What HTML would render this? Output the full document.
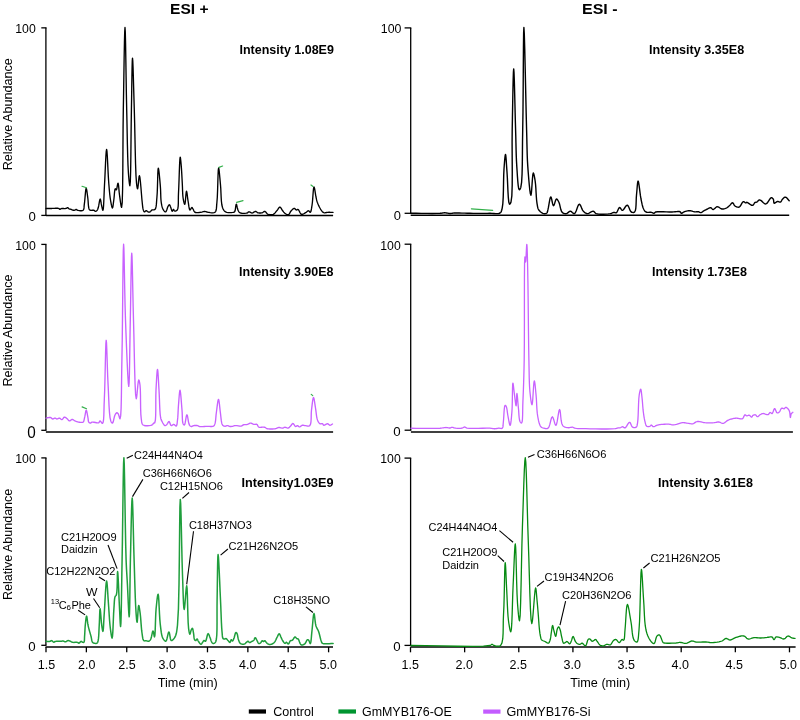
<!DOCTYPE html>
<html><head><meta charset="utf-8"><title>Chromatograms</title>
<style>html,body{margin:0;padding:0;background:#fff;width:800px;height:720px;overflow:hidden}
svg{display:block;will-change:transform}
text{font-family:"Liberation Sans", sans-serif;fill:#000}</style></head>
<body><svg width="800" height="720" viewBox="0 0 800 720">
<rect width="800" height="720" fill="#fff"/>
<line x1="45.90" y1="27.85" x2="45.90" y2="215.40" stroke="#000" stroke-width="1.30"/>
<line x1="41.30" y1="27.85" x2="46.50" y2="27.85" stroke="#000" stroke-width="1.30"/>
<line x1="41.30" y1="215.40" x2="46.50" y2="215.40" stroke="#000" stroke-width="1.30"/>
<line x1="45.90" y1="215.40" x2="333.10" y2="215.40" stroke="#000" stroke-width="1.50"/>
<line x1="45.90" y1="244.40" x2="45.90" y2="430.30" stroke="#000" stroke-width="1.30"/>
<line x1="41.30" y1="244.40" x2="46.50" y2="244.40" stroke="#000" stroke-width="1.30"/>
<line x1="41.30" y1="430.30" x2="46.50" y2="430.30" stroke="#000" stroke-width="1.30"/>
<line x1="45.90" y1="432.00" x2="333.10" y2="432.00" stroke="#000" stroke-width="1.50"/>
<line x1="45.90" y1="457.90" x2="45.90" y2="645.30" stroke="#000" stroke-width="1.30"/>
<line x1="41.30" y1="457.90" x2="46.50" y2="457.90" stroke="#000" stroke-width="1.30"/>
<line x1="41.30" y1="645.30" x2="46.50" y2="645.30" stroke="#000" stroke-width="1.30"/>
<line x1="45.50" y1="647.10" x2="333.00" y2="647.10" stroke="#000" stroke-width="1.50"/>
<line x1="410.70" y1="27.90" x2="410.70" y2="213.30" stroke="#000" stroke-width="1.30"/>
<line x1="404.60" y1="27.90" x2="411.30" y2="27.90" stroke="#000" stroke-width="1.30"/>
<line x1="404.60" y1="213.30" x2="411.30" y2="213.30" stroke="#000" stroke-width="1.30"/>
<line x1="410.70" y1="215.30" x2="789.20" y2="215.30" stroke="#000" stroke-width="1.50"/>
<line x1="410.70" y1="244.20" x2="410.70" y2="430.20" stroke="#000" stroke-width="1.30"/>
<line x1="404.60" y1="244.20" x2="411.30" y2="244.20" stroke="#000" stroke-width="1.30"/>
<line x1="404.60" y1="430.20" x2="411.30" y2="430.20" stroke="#000" stroke-width="1.30"/>
<line x1="410.90" y1="431.90" x2="792.90" y2="431.90" stroke="#000" stroke-width="1.50"/>
<line x1="410.60" y1="458.10" x2="410.60" y2="645.40" stroke="#000" stroke-width="1.30"/>
<line x1="404.50" y1="458.10" x2="411.20" y2="458.10" stroke="#000" stroke-width="1.30"/>
<line x1="404.50" y1="645.40" x2="411.20" y2="645.40" stroke="#000" stroke-width="1.30"/>
<line x1="410.50" y1="647.10" x2="795.60" y2="647.10" stroke="#000" stroke-width="1.50"/>
<line x1="46.00" y1="647.00" x2="46.00" y2="652.30" stroke="#000" stroke-width="1.30"/>
<line x1="410.50" y1="647.10" x2="410.50" y2="652.30" stroke="#000" stroke-width="1.30"/>
<line x1="86.37" y1="647.00" x2="86.37" y2="652.30" stroke="#000" stroke-width="1.30"/>
<line x1="464.64" y1="647.10" x2="464.64" y2="652.30" stroke="#000" stroke-width="1.30"/>
<line x1="126.74" y1="647.00" x2="126.74" y2="652.30" stroke="#000" stroke-width="1.30"/>
<line x1="518.78" y1="647.10" x2="518.78" y2="652.30" stroke="#000" stroke-width="1.30"/>
<line x1="167.11" y1="647.00" x2="167.11" y2="652.30" stroke="#000" stroke-width="1.30"/>
<line x1="572.92" y1="647.10" x2="572.92" y2="652.30" stroke="#000" stroke-width="1.30"/>
<line x1="207.48" y1="647.00" x2="207.48" y2="652.30" stroke="#000" stroke-width="1.30"/>
<line x1="627.06" y1="647.10" x2="627.06" y2="652.30" stroke="#000" stroke-width="1.30"/>
<line x1="247.85" y1="647.00" x2="247.85" y2="652.30" stroke="#000" stroke-width="1.30"/>
<line x1="681.20" y1="647.10" x2="681.20" y2="652.30" stroke="#000" stroke-width="1.30"/>
<line x1="288.22" y1="647.00" x2="288.22" y2="652.30" stroke="#000" stroke-width="1.30"/>
<line x1="735.34" y1="647.10" x2="735.34" y2="652.30" stroke="#000" stroke-width="1.30"/>
<line x1="328.59" y1="647.00" x2="328.59" y2="652.30" stroke="#000" stroke-width="1.30"/>
<line x1="789.48" y1="647.10" x2="789.48" y2="652.30" stroke="#000" stroke-width="1.30"/>
<path d="M46.00 208.45 L47.00 208.45 L47.99 208.45 L48.98 208.45 L49.98 208.45 L50.98 208.45 L52.00 208.45 L53.16 208.42 L54.42 208.35 L55.68 208.28 L56.87 208.25 L57.91 208.29 L58.70 208.45 L58.97 208.59 L59.19 208.79 L59.37 209.00 L59.54 209.19 L59.71 209.34 L59.90 209.40 L60.10 209.36 L60.29 209.24 L60.48 209.08 L60.69 208.89 L60.92 208.72 L61.20 208.60 L61.85 208.50 L62.66 208.49 L63.57 208.52 L64.48 208.55 L65.32 208.54 L66.00 208.45 L66.33 208.32 L66.61 208.14 L66.87 207.94 L67.11 207.76 L67.35 207.63 L67.60 207.60 L67.87 207.70 L68.13 207.90 L68.39 208.16 L68.65 208.45 L68.92 208.71 L69.20 208.90 L69.47 209.01 L69.74 209.08 L70.02 209.13 L70.31 209.17 L70.60 209.22 L70.90 209.30 L71.28 209.44 L71.69 209.63 L72.10 209.82 L72.52 210.01 L72.92 210.16 L73.30 210.25 L73.58 210.28 L73.86 210.28 L74.13 210.26 L74.39 210.22 L74.65 210.17 L74.90 210.10 L75.13 210.00 L75.35 209.85 L75.57 209.69 L75.78 209.54 L75.99 209.44 L76.20 209.40 L76.41 209.46 L76.59 209.59 L76.78 209.76 L76.98 209.95 L77.22 210.12 L77.50 210.25 L78.25 210.44 L79.22 210.61 L80.32 210.73 L81.40 210.74 L82.37 210.60 L83.10 210.25 L83.57 209.65 L83.85 208.85 L83.99 207.88 L84.08 206.79 L84.16 205.62 L84.30 204.40 L84.62 201.81 L84.93 198.44 L85.25 194.85 L85.56 191.59 L85.87 189.22 L86.20 188.30 L86.46 188.78 L86.74 190.06 L87.01 191.88 L87.28 193.99 L87.55 196.11 L87.80 198.00 L88.02 199.98 L88.18 202.17 L88.33 204.39 L88.52 206.44 L88.80 208.14 L89.20 209.30 L89.38 209.57 L89.57 209.78 L89.77 209.94 L89.99 210.06 L90.23 210.16 L90.50 210.25 L90.95 210.32 L91.48 210.32 L92.06 210.26 L92.64 210.21 L93.20 210.19 L93.70 210.25 L94.07 210.40 L94.42 210.63 L94.75 210.88 L95.07 211.11 L95.39 211.27 L95.70 211.30 L96.05 211.19 L96.40 210.97 L96.75 210.65 L97.08 210.26 L97.40 209.80 L97.70 209.30 L98.23 207.83 L98.70 205.73 L99.12 203.39 L99.50 201.22 L99.86 199.62 L100.20 199.00 L100.44 199.31 L100.67 200.13 L100.87 201.28 L101.07 202.59 L101.28 203.88 L101.50 205.00 L101.73 206.03 L101.97 207.19 L102.22 208.35 L102.46 209.35 L102.69 210.05 L102.90 210.30 L103.28 209.03 L103.57 205.74 L103.81 201.05 L104.03 195.61 L104.25 190.05 L104.50 185.00 L104.84 178.59 L105.18 170.95 L105.53 163.13 L105.88 156.22 L106.24 151.28 L106.60 149.40 L106.95 151.24 L107.30 156.04 L107.65 162.71 L108.00 170.15 L108.37 177.28 L108.75 183.00 L109.02 186.24 L109.28 189.33 L109.54 192.26 L109.82 195.03 L110.14 197.61 L110.50 200.00 L110.79 201.70 L111.11 203.49 L111.45 205.20 L111.78 206.64 L112.11 207.63 L112.40 208.00 L112.66 207.60 L112.91 206.56 L113.14 205.08 L113.36 203.36 L113.58 201.60 L113.80 200.00 L114.04 197.99 L114.25 195.61 L114.45 193.18 L114.67 191.01 L114.95 189.43 L115.30 188.75 L115.45 188.81 L115.62 189.03 L115.79 189.32 L115.97 189.62 L116.14 189.83 L116.30 189.90 L116.62 189.35 L116.93 188.09 L117.22 186.48 L117.49 184.89 L117.75 183.68 L118.00 183.20 L118.29 183.81 L118.54 185.39 L118.77 187.62 L118.99 190.18 L119.23 192.75 L119.50 195.00 L119.83 197.34 L120.19 200.04 L120.56 202.75 L120.94 205.11 L121.29 206.78 L121.60 207.40 L122.23 202.30 L122.61 189.01 L122.82 170.33 L122.95 149.06 L123.08 128.01 L123.30 110.00 L123.58 93.94 L123.86 75.88 L124.14 58.01 L124.43 42.52 L124.72 31.62 L125.00 27.50 L125.28 31.83 L125.56 43.20 L125.83 59.14 L126.11 77.23 L126.40 94.99 L126.70 110.00 L126.95 121.49 L127.17 133.27 L127.40 144.81 L127.67 155.58 L127.99 165.06 L128.40 172.70 L128.63 175.76 L128.89 178.77 L129.15 181.51 L129.42 183.75 L129.67 185.25 L129.90 185.80 L130.32 181.76 L130.63 171.21 L130.85 156.46 L131.02 139.81 L131.20 123.56 L131.40 110.00 L131.58 99.58 L131.75 88.13 L131.91 76.95 L132.09 67.35 L132.28 60.63 L132.50 58.10 L132.76 60.64 L133.05 67.38 L133.35 77.01 L133.67 88.20 L133.99 99.64 L134.30 110.00 L134.63 122.40 L134.93 136.45 L135.23 150.86 L135.57 164.29 L135.98 175.44 L136.50 183.00 L136.67 184.47 L136.85 185.83 L137.03 187.01 L137.22 187.93 L137.41 188.54 L137.60 188.75 L137.89 187.77 L138.18 185.33 L138.48 182.17 L138.78 179.00 L139.09 176.57 L139.40 175.60 L139.88 177.25 L140.39 181.47 L140.91 187.23 L141.42 193.49 L141.89 199.19 L142.30 203.30 L142.45 204.63 L142.58 205.81 L142.70 206.87 L142.83 207.83 L142.99 208.70 L143.20 209.50 L143.36 210.02 L143.53 210.54 L143.72 211.03 L143.92 211.44 L144.15 211.75 L144.40 211.90 L144.67 211.85 L144.96 211.62 L145.28 211.30 L145.61 210.96 L145.93 210.71 L146.25 210.60 L146.56 210.68 L146.86 210.89 L147.16 211.17 L147.47 211.47 L147.78 211.73 L148.10 211.90 L148.41 211.98 L148.73 212.04 L149.06 212.06 L149.38 212.05 L149.70 212.00 L150.00 211.90 L150.33 211.69 L150.63 211.37 L150.92 211.00 L151.21 210.61 L151.53 210.27 L151.90 210.00 L152.37 209.86 L152.91 209.83 L153.47 209.84 L154.03 209.82 L154.55 209.70 L155.00 209.40 L155.64 208.30 L156.07 206.68 L156.34 204.67 L156.53 202.39 L156.69 199.96 L156.90 197.50 L157.23 192.68 L157.46 186.50 L157.64 179.96 L157.80 174.04 L158.01 169.76 L158.30 168.10 L158.61 169.07 L158.98 171.64 L159.37 175.25 L159.76 179.36 L160.11 183.43 L160.40 186.90 L160.57 189.66 L160.67 192.44 L160.75 195.19 L160.84 197.83 L160.99 200.29 L161.25 202.50 L161.48 203.87 L161.72 205.16 L161.99 206.38 L162.30 207.50 L162.66 208.51 L163.10 209.40 L163.47 210.00 L163.88 210.59 L164.32 211.14 L164.77 211.57 L165.20 211.84 L165.60 211.90 L166.07 211.50 L166.51 210.63 L166.92 209.47 L167.32 208.23 L167.71 207.09 L168.10 206.25 L168.32 205.89 L168.55 205.54 L168.77 205.22 L168.99 204.96 L169.20 204.80 L169.40 204.75 L169.62 204.87 L169.82 205.16 L170.02 205.56 L170.21 206.04 L170.40 206.53 L170.60 207.00 L170.87 207.72 L171.14 208.61 L171.41 209.54 L171.69 210.38 L171.97 210.99 L172.25 211.25 L172.45 211.13 L172.66 210.79 L172.87 210.35 L173.08 209.90 L173.29 209.55 L173.50 209.40 L173.70 209.50 L173.88 209.78 L174.07 210.14 L174.27 210.51 L174.49 210.83 L174.75 211.00 L175.11 211.05 L175.54 211.01 L176.00 210.89 L176.46 210.69 L176.89 210.39 L177.25 210.00 L177.88 208.44 L178.20 206.10 L178.33 203.19 L178.36 199.90 L178.38 196.44 L178.50 193.00 L178.78 186.97 L179.06 179.40 L179.32 171.46 L179.60 164.33 L179.89 159.18 L180.20 157.20 L180.37 157.61 L180.55 158.71 L180.73 160.30 L180.91 162.18 L181.09 164.15 L181.25 166.00 L181.46 168.62 L181.64 171.53 L181.82 174.61 L181.98 177.75 L182.14 180.83 L182.30 183.75 L182.42 186.28 L182.50 188.83 L182.59 191.33 L182.70 193.73 L182.86 195.98 L183.10 198.00 L183.33 199.37 L183.60 200.81 L183.89 202.18 L184.19 203.33 L184.48 204.12 L184.75 204.40 L185.08 203.41 L185.38 200.97 L185.66 197.81 L185.94 194.65 L186.21 192.22 L186.50 191.25 L186.76 191.77 L187.01 193.13 L187.27 195.04 L187.53 197.23 L187.81 199.39 L188.10 201.25 L188.38 202.93 L188.64 204.82 L188.92 206.68 L189.23 208.31 L189.58 209.49 L190.00 210.00 L190.29 209.86 L190.61 209.40 L190.95 208.79 L191.28 208.17 L191.61 207.69 L191.90 207.50 L192.10 207.57 L192.28 207.76 L192.45 208.02 L192.63 208.34 L192.81 208.68 L193.00 209.00 L193.28 209.50 L193.55 210.09 L193.83 210.73 L194.15 211.33 L194.53 211.86 L195.00 212.25 L195.67 212.51 L196.45 212.62 L197.32 212.63 L198.23 212.57 L199.14 212.48 L200.00 212.40 L200.85 212.29 L201.72 212.10 L202.58 211.89 L203.43 211.68 L204.24 211.54 L205.00 211.50 L205.53 211.56 L206.01 211.68 L206.47 211.83 L206.93 212.00 L207.43 212.14 L208.00 212.25 L209.05 212.41 L210.29 212.63 L211.62 212.80 L212.92 212.85 L214.08 212.70 L215.00 212.25 L215.73 211.31 L216.18 210.01 L216.43 208.42 L216.58 206.60 L216.70 204.60 L216.90 202.50 L217.31 197.18 L217.60 190.02 L217.83 182.27 L218.04 175.19 L218.28 170.01 L218.60 168.00 L218.88 168.83 L219.20 171.05 L219.52 174.22 L219.86 177.89 L220.19 181.63 L220.50 185.00 L220.78 188.78 L220.96 192.94 L221.15 197.18 L221.41 201.23 L221.83 204.76 L222.50 207.50 L222.90 208.53 L223.31 209.42 L223.77 210.20 L224.28 210.87 L224.88 211.43 L225.60 211.90 L226.77 212.32 L228.25 212.55 L229.87 212.62 L231.44 212.58 L232.79 212.44 L233.75 212.25 L234.00 212.17 L234.20 212.09 L234.37 211.99 L234.51 211.87 L234.65 211.71 L234.80 211.50 L235.13 210.57 L235.40 209.11 L235.62 207.43 L235.83 205.85 L236.05 204.67 L236.30 204.20 L236.53 204.48 L236.75 205.23 L236.98 206.28 L237.22 207.45 L237.49 208.58 L237.80 209.50 L238.06 210.12 L238.32 210.74 L238.59 211.32 L238.91 211.86 L239.30 212.32 L239.80 212.70 L240.76 213.06 L241.99 213.27 L243.37 213.34 L244.76 213.30 L246.01 213.18 L247.00 213.00 L247.42 212.83 L247.76 212.60 L248.06 212.33 L248.35 212.09 L248.66 211.89 L249.00 211.80 L249.46 211.87 L249.94 212.08 L250.44 212.38 L250.96 212.68 L251.48 212.91 L252.00 213.00 L252.59 212.87 L253.21 212.56 L253.83 212.17 L254.45 211.78 L255.04 211.50 L255.60 211.40 L256.02 211.50 L256.41 211.73 L256.78 212.02 L257.16 212.33 L257.56 212.61 L258.00 212.80 L258.61 212.93 L259.28 213.00 L259.98 213.02 L260.69 212.99 L261.37 212.92 L262.00 212.80 L262.51 212.60 L262.99 212.30 L263.45 211.96 L263.90 211.65 L264.35 211.44 L264.80 211.40 L265.32 211.63 L265.82 212.10 L266.31 212.72 L266.83 213.36 L267.38 213.92 L268.00 214.30 L268.80 214.54 L269.69 214.69 L270.63 214.75 L271.58 214.71 L272.49 214.56 L273.30 214.30 L274.02 213.89 L274.67 213.31 L275.29 212.63 L275.87 211.90 L276.43 211.17 L277.00 210.50 L277.51 209.85 L278.01 209.10 L278.50 208.36 L278.97 207.72 L279.44 207.26 L279.90 207.10 L280.35 207.29 L280.78 207.75 L281.21 208.41 L281.63 209.15 L282.06 209.88 L282.50 210.50 L282.92 211.02 L283.33 211.55 L283.74 212.07 L284.16 212.56 L284.61 213.01 L285.10 213.40 L285.61 213.75 L286.18 214.10 L286.76 214.41 L287.34 214.64 L287.89 214.75 L288.40 214.70 L288.89 214.39 L289.32 213.83 L289.72 213.13 L290.12 212.36 L290.53 211.62 L291.00 211.00 L291.51 210.45 L292.07 209.87 L292.65 209.31 L293.23 208.84 L293.79 208.52 L294.30 208.40 L294.66 208.51 L295.00 208.79 L295.33 209.16 L295.65 209.54 L295.97 209.84 L296.30 210.00 L296.58 209.98 L296.86 209.84 L297.14 209.66 L297.42 209.49 L297.71 209.39 L298.00 209.40 L298.54 209.86 L299.08 210.76 L299.64 211.88 L300.22 213.00 L300.83 213.92 L301.50 214.40 L302.12 214.44 L302.79 214.25 L303.49 213.92 L304.19 213.50 L304.86 213.07 L305.50 212.70 L306.04 212.35 L306.58 211.92 L307.09 211.48 L307.59 211.10 L308.06 210.83 L308.50 210.75 L308.84 210.89 L309.16 211.21 L309.47 211.60 L309.77 211.98 L310.04 212.24 L310.30 212.30 L310.69 211.90 L311.01 211.05 L311.28 209.86 L311.53 208.47 L311.76 206.97 L312.00 205.50 L312.38 202.52 L312.71 198.65 L313.01 194.53 L313.31 190.78 L313.63 188.06 L314.00 187.00 L314.31 187.54 L314.64 188.96 L314.99 190.94 L315.33 193.16 L315.68 195.29 L316.00 197.00 L316.21 197.96 L316.39 198.83 L316.56 199.65 L316.76 200.47 L317.00 201.30 L317.30 202.20 L317.80 203.49 L318.41 204.91 L319.08 206.36 L319.80 207.76 L320.51 209.04 L321.20 210.10 L321.61 210.68 L322.01 211.22 L322.42 211.70 L322.84 212.12 L323.29 212.46 L323.80 212.70 L324.41 212.82 L325.08 212.79 L325.79 212.68 L326.52 212.52 L327.26 212.38 L328.00 212.30 L328.81 212.28 L329.63 212.29 L330.47 212.32 L331.32 212.35 L332.16 212.38 L333.00 212.40" fill="none" stroke="#000" stroke-width="1.35" stroke-linejoin="round" stroke-linecap="round"/>
<path d="M46.00 418.10 L46.79 417.96 L47.62 417.78 L48.44 417.61 L49.24 417.47 L49.97 417.42 L50.60 417.50 L50.98 417.68 L51.30 417.97 L51.59 418.29 L51.88 418.61 L52.17 418.86 L52.50 419.00 L52.89 418.97 L53.31 418.81 L53.74 418.58 L54.18 418.34 L54.60 418.16 L55.00 418.10 L55.33 418.18 L55.64 418.34 L55.95 418.55 L56.26 418.76 L56.57 418.92 L56.90 419.00 L57.30 418.94 L57.71 418.77 L58.13 418.53 L58.56 418.31 L58.99 418.14 L59.40 418.10 L59.83 418.25 L60.25 418.55 L60.67 418.92 L61.09 419.27 L61.50 419.53 L61.90 419.60 L62.33 419.39 L62.74 418.93 L63.15 418.36 L63.55 417.78 L63.97 417.32 L64.40 417.10 L64.81 417.12 L65.22 417.28 L65.65 417.54 L66.07 417.85 L66.49 418.18 L66.90 418.50 L67.33 418.89 L67.74 419.38 L68.14 419.90 L68.54 420.37 L68.96 420.72 L69.40 420.90 L69.85 420.83 L70.32 420.56 L70.80 420.19 L71.29 419.81 L71.77 419.52 L72.25 419.40 L72.71 419.48 L73.15 419.70 L73.59 419.99 L74.04 420.32 L74.51 420.64 L75.00 420.90 L75.58 421.14 L76.18 421.38 L76.81 421.60 L77.45 421.81 L78.09 421.97 L78.75 422.10 L79.48 422.22 L80.28 422.35 L81.08 422.44 L81.85 422.45 L82.54 422.35 L83.10 422.10 L83.50 421.67 L83.79 421.09 L83.99 420.39 L84.15 419.62 L84.31 418.81 L84.50 418.00 L84.80 416.68 L85.10 415.03 L85.39 413.31 L85.67 411.78 L85.96 410.67 L86.25 410.25 L86.55 410.67 L86.86 411.77 L87.18 413.31 L87.48 415.02 L87.76 416.67 L88.00 418.00 L88.13 418.79 L88.20 419.58 L88.27 420.33 L88.36 421.01 L88.50 421.61 L88.75 422.10 L89.00 422.38 L89.30 422.63 L89.63 422.84 L89.97 422.99 L90.30 423.08 L90.60 423.10 L90.82 423.03 L91.01 422.87 L91.19 422.66 L91.38 422.43 L91.61 422.24 L91.90 422.10 L92.78 422.06 L93.99 422.23 L95.34 422.51 L96.70 422.77 L97.89 422.89 L98.75 422.75 L99.06 422.50 L99.29 422.13 L99.45 421.71 L99.61 421.32 L99.78 421.03 L100.00 420.90 L100.37 421.08 L100.79 421.57 L101.25 422.22 L101.70 422.85 L102.13 423.30 L102.50 423.40 L103.19 422.11 L103.61 419.18 L103.85 415.06 L103.98 410.19 L104.10 405.02 L104.30 400.00 L104.68 390.26 L105.01 377.72 L105.30 364.41 L105.59 352.38 L105.88 343.66 L106.20 340.30 L106.49 342.63 L106.77 348.76 L107.06 357.37 L107.37 367.15 L107.71 376.80 L108.10 385.00 L108.43 391.74 L108.73 398.94 L109.05 406.03 L109.46 412.44 L110.02 417.62 L110.80 421.00 L111.06 421.60 L111.34 422.12 L111.64 422.56 L111.93 422.88 L112.22 423.07 L112.50 423.10 L112.94 422.56 L113.35 421.32 L113.73 419.66 L114.12 417.86 L114.54 416.21 L115.00 415.00 L115.30 414.47 L115.62 413.95 L115.94 413.49 L116.27 413.12 L116.59 412.86 L116.90 412.75 L117.14 412.79 L117.38 412.92 L117.62 413.13 L117.86 413.39 L118.08 413.69 L118.30 414.00 L118.63 414.71 L118.94 415.70 L119.23 416.79 L119.50 417.78 L119.76 418.50 L120.00 418.75 L120.67 415.90 L121.10 408.49 L121.36 397.86 L121.53 385.34 L121.69 372.28 L121.90 360.00 L122.24 340.27 L122.52 315.71 L122.78 290.06 L123.02 267.09 L123.29 250.55 L123.60 244.20 L123.87 248.12 L124.14 258.42 L124.42 272.94 L124.73 289.49 L125.08 305.90 L125.50 320.00 L125.98 332.86 L126.54 347.38 L127.14 361.78 L127.74 374.27 L128.29 383.07 L128.75 386.40 L129.11 383.02 L129.40 374.11 L129.64 361.51 L129.85 347.06 L130.07 332.61 L130.30 320.00 L130.54 307.33 L130.78 292.80 L131.01 278.26 L131.25 265.58 L131.49 256.60 L131.75 253.20 L132.02 256.54 L132.28 265.37 L132.56 277.91 L132.85 292.38 L133.16 307.00 L133.50 320.00 L133.87 334.57 L134.23 351.59 L134.62 368.79 L135.07 383.90 L135.60 394.64 L136.25 398.75 L136.62 397.38 L137.03 393.91 L137.46 389.41 L137.90 384.89 L138.33 381.41 L138.75 380.00 L138.97 380.19 L139.19 380.75 L139.40 381.58 L139.62 382.62 L139.82 383.78 L140.00 385.00 L140.32 389.20 L140.47 395.02 L140.54 401.69 L140.63 408.39 L140.84 414.35 L141.25 418.75 L141.45 420.16 L141.61 421.44 L141.79 422.56 L142.06 423.54 L142.48 424.35 L143.10 425.00 L144.23 425.50 L145.76 425.74 L147.49 425.77 L149.22 425.62 L150.76 425.35 L151.90 425.00 L152.33 424.74 L152.69 424.41 L152.98 424.03 L153.24 423.66 L153.49 423.34 L153.75 423.10 L153.93 423.02 L154.10 423.00 L154.27 422.99 L154.44 422.97 L154.60 422.90 L154.75 422.75 L155.37 420.23 L155.68 415.42 L155.79 409.16 L155.80 402.29 L155.84 395.62 L156.00 390.00 L156.22 385.81 L156.47 381.25 L156.72 376.83 L156.98 373.04 L157.24 370.39 L157.50 369.40 L157.75 370.41 L158.00 373.10 L158.26 376.94 L158.51 381.39 L158.76 385.92 L159.00 390.00 L159.24 394.65 L159.45 399.82 L159.64 405.10 L159.88 410.08 L160.18 414.35 L160.60 417.50 L160.78 418.34 L160.96 419.02 L161.15 419.61 L161.36 420.14 L161.61 420.67 L161.90 421.25 L162.32 422.06 L162.81 422.98 L163.36 423.90 L163.92 424.71 L164.48 425.31 L165.00 425.60 L165.32 425.59 L165.65 425.47 L165.97 425.26 L166.29 424.99 L166.60 424.69 L166.90 424.40 L167.27 423.94 L167.63 423.32 L167.98 422.67 L168.32 422.08 L168.66 421.65 L169.00 421.50 L169.37 421.80 L169.72 422.52 L170.06 423.46 L170.42 424.41 L170.81 425.20 L171.25 425.60 L171.63 425.59 L172.04 425.38 L172.46 425.07 L172.90 424.74 L173.33 424.49 L173.75 424.40 L174.19 424.55 L174.64 424.89 L175.09 425.32 L175.52 425.71 L175.91 425.97 L176.25 426.00 L176.62 425.60 L176.89 424.83 L177.08 423.79 L177.22 422.57 L177.35 421.27 L177.50 420.00 L177.73 417.89 L177.90 415.50 L178.04 412.92 L178.17 410.24 L178.32 407.57 L178.50 405.00 L178.72 402.19 L178.95 398.98 L179.21 395.77 L179.47 392.98 L179.73 391.00 L180.00 390.25 L180.33 391.30 L180.67 394.04 L181.03 397.88 L181.38 402.22 L181.71 406.46 L182.00 410.00 L182.17 412.61 L182.27 415.33 L182.35 417.97 L182.48 420.38 L182.71 422.36 L183.10 423.75 L183.29 424.11 L183.50 424.43 L183.73 424.70 L183.96 424.89 L184.19 425.00 L184.40 425.00 L184.87 424.14 L185.30 422.22 L185.71 419.77 L186.10 417.34 L186.49 415.49 L186.90 414.75 L187.29 415.38 L187.66 417.00 L188.03 419.19 L188.43 421.54 L188.87 423.61 L189.40 425.00 L189.68 425.40 L189.97 425.75 L190.27 426.03 L190.58 426.25 L190.91 426.41 L191.25 426.50 L191.63 426.49 L192.02 426.36 L192.43 426.16 L192.85 425.93 L193.29 425.73 L193.75 425.60 L194.34 425.52 L194.99 425.46 L195.66 425.44 L196.32 425.46 L196.95 425.51 L197.50 425.60 L197.84 425.71 L198.14 425.87 L198.41 426.05 L198.69 426.22 L199.01 426.38 L199.40 426.50 L200.37 426.61 L201.57 426.62 L202.91 426.56 L204.32 426.46 L205.71 426.36 L207.00 426.30 L208.17 426.32 L209.39 426.39 L210.60 426.47 L211.73 426.49 L212.72 426.38 L213.50 426.10 L213.89 425.81 L214.20 425.46 L214.43 425.05 L214.63 424.59 L214.81 424.08 L215.00 423.50 L215.32 422.19 L215.56 420.59 L215.74 418.79 L215.90 416.87 L216.07 414.91 L216.30 413.00 L216.63 410.52 L216.99 407.59 L217.37 404.61 L217.76 401.98 L218.14 400.11 L218.50 399.40 L218.82 400.05 L219.13 401.76 L219.43 404.16 L219.72 406.91 L220.01 409.64 L220.30 412.00 L220.56 414.06 L220.80 416.23 L221.03 418.39 L221.28 420.40 L221.56 422.15 L221.90 423.50 L222.06 423.96 L222.21 424.35 L222.37 424.70 L222.55 425.00 L222.76 425.26 L223.00 425.50 L223.28 425.71 L223.59 425.88 L223.93 426.03 L224.28 426.14 L224.64 426.21 L225.00 426.25 L225.40 426.21 L225.81 426.09 L226.23 425.93 L226.66 425.76 L227.08 425.64 L227.50 425.60 L227.92 425.67 L228.33 425.83 L228.75 426.02 L229.16 426.22 L229.58 426.40 L230.00 426.50 L230.41 426.53 L230.83 426.53 L231.25 426.50 L231.67 426.44 L232.08 426.37 L232.50 426.30 L232.91 426.20 L233.29 426.08 L233.68 425.93 L234.08 425.80 L234.51 425.68 L235.00 425.60 L235.91 425.59 L236.98 425.70 L238.13 425.86 L239.28 426.00 L240.35 426.07 L241.25 426.00 L241.74 425.85 L242.16 425.64 L242.54 425.40 L242.92 425.15 L243.31 424.92 L243.75 424.75 L244.33 424.64 L244.95 424.58 L245.60 424.57 L246.25 424.55 L246.89 424.51 L247.50 424.40 L248.04 424.21 L248.56 423.94 L249.08 423.65 L249.58 423.38 L250.09 423.18 L250.60 423.10 L251.12 423.18 L251.64 423.39 L252.17 423.67 L252.69 423.97 L253.22 424.23 L253.75 424.40 L254.28 424.44 L254.84 424.39 L255.40 424.31 L255.94 424.25 L256.45 424.26 L256.90 424.40 L257.26 424.72 L257.54 425.18 L257.78 425.72 L258.03 426.26 L258.34 426.75 L258.75 427.10 L259.50 427.33 L260.43 427.36 L261.46 427.29 L262.52 427.20 L263.53 427.15 L264.40 427.25 L264.96 427.44 L265.46 427.71 L265.92 428.00 L266.39 428.29 L266.90 428.56 L267.50 428.75 L268.58 428.93 L269.84 429.02 L271.20 429.04 L272.57 429.00 L273.87 428.90 L275.00 428.75 L275.71 428.58 L276.35 428.34 L276.96 428.07 L277.55 427.82 L278.14 427.61 L278.75 427.50 L279.38 427.52 L280.02 427.63 L280.67 427.80 L281.31 427.96 L281.92 428.08 L282.50 428.10 L282.95 428.01 L283.36 427.85 L283.77 427.66 L284.17 427.46 L284.57 427.32 L285.00 427.25 L285.50 427.32 L286.03 427.50 L286.57 427.74 L287.10 427.96 L287.61 428.11 L288.10 428.10 L288.56 427.93 L288.99 427.63 L289.40 427.26 L289.81 426.84 L290.20 426.40 L290.60 426.00 L291.00 425.55 L291.38 425.01 L291.76 424.46 L292.13 423.97 L292.51 423.63 L292.90 423.50 L293.34 423.71 L293.79 424.24 L294.24 424.94 L294.70 425.64 L295.15 426.22 L295.60 426.50 L295.92 426.47 L296.24 426.31 L296.56 426.08 L296.87 425.84 L297.19 425.66 L297.50 425.60 L297.82 425.71 L298.12 425.95 L298.42 426.25 L298.73 426.56 L299.05 426.79 L299.40 426.90 L299.87 426.81 L300.38 426.53 L300.91 426.16 L301.45 425.77 L301.98 425.44 L302.50 425.25 L302.91 425.22 L303.31 425.26 L303.71 425.34 L304.11 425.45 L304.54 425.54 L305.00 425.60 L305.73 425.70 L306.57 425.87 L307.45 426.02 L308.31 426.07 L309.10 425.96 L309.75 425.60 L310.55 424.14 L310.97 421.83 L311.15 418.95 L311.21 415.81 L311.28 412.73 L311.50 410.00 L311.81 407.55 L312.13 404.80 L312.46 402.10 L312.80 399.77 L313.15 398.12 L313.50 397.50 L313.83 398.02 L314.16 399.41 L314.50 401.39 L314.84 403.67 L315.17 405.96 L315.50 408.00 L315.81 410.04 L316.08 412.21 L316.34 414.40 L316.64 416.51 L317.02 418.41 L317.50 420.00 L317.85 420.83 L318.23 421.61 L318.63 422.31 L319.06 422.92 L319.52 423.40 L320.00 423.75 L320.40 423.87 L320.84 423.86 L321.29 423.79 L321.73 423.70 L322.14 423.67 L322.50 423.75 L322.75 423.94 L322.94 424.22 L323.11 424.54 L323.28 424.85 L323.49 425.10 L323.75 425.25 L324.25 425.21 L324.86 424.94 L325.54 424.55 L326.23 424.15 L326.90 423.85 L327.50 423.75 L327.95 423.88 L328.38 424.17 L328.79 424.52 L329.19 424.86 L329.59 425.13 L330.00 425.25 L330.41 425.20 L330.83 425.03 L331.25 424.79 L331.66 424.52 L332.08 424.24 L332.50 424.00" fill="none" stroke="#c862ff" stroke-width="1.35" stroke-linejoin="round" stroke-linecap="round"/>
<path d="M46.00 641.35 L46.69 641.37 L47.40 641.40 L48.12 641.43 L48.81 641.45 L49.44 641.43 L50.00 641.35 L50.31 641.24 L50.59 641.08 L50.84 640.90 L51.08 640.74 L51.33 640.63 L51.60 640.60 L51.98 640.74 L52.37 641.06 L52.78 641.45 L53.18 641.83 L53.56 642.13 L53.90 642.25 L54.09 642.21 L54.26 642.10 L54.41 641.94 L54.57 641.77 L54.76 641.62 L55.00 641.50 L55.63 641.38 L56.43 641.33 L57.33 641.33 L58.27 641.35 L59.19 641.37 L60.00 641.35 L60.59 641.30 L61.16 641.23 L61.71 641.16 L62.24 641.10 L62.75 641.08 L63.25 641.10 L63.65 641.19 L64.03 641.33 L64.40 641.50 L64.76 641.66 L65.12 641.77 L65.50 641.80 L65.93 641.70 L66.37 641.48 L66.81 641.21 L67.25 640.93 L67.68 640.71 L68.10 640.60 L68.43 640.60 L68.75 640.65 L69.06 640.74 L69.37 640.85 L69.68 640.97 L70.00 641.10 L70.36 641.27 L70.70 641.47 L71.05 641.69 L71.41 641.91 L71.81 642.10 L72.25 642.25 L73.03 642.36 L73.95 642.38 L74.93 642.34 L75.91 642.30 L76.79 642.31 L77.50 642.40 L77.81 642.52 L78.07 642.68 L78.31 642.86 L78.53 643.02 L78.76 643.13 L79.00 643.15 L79.34 642.99 L79.70 642.66 L80.06 642.24 L80.42 641.82 L80.77 641.49 L81.10 641.35 L81.34 641.39 L81.58 641.54 L81.80 641.73 L82.03 641.95 L82.26 642.13 L82.50 642.25 L82.73 642.32 L82.98 642.38 L83.24 642.42 L83.48 642.42 L83.71 642.37 L83.90 642.25 L84.20 641.72 L84.37 640.86 L84.45 639.77 L84.49 638.53 L84.53 637.24 L84.60 636.00 L84.72 634.33 L84.82 632.52 L84.92 630.62 L85.02 628.69 L85.14 626.80 L85.30 625.00 L85.48 623.25 L85.68 621.30 L85.90 619.38 L86.14 617.71 L86.37 616.54 L86.60 616.10 L86.82 616.57 L87.04 617.81 L87.27 619.55 L87.50 621.51 L87.74 623.42 L88.00 625.00 L88.23 626.08 L88.47 627.11 L88.72 628.10 L88.98 629.08 L89.24 630.04 L89.50 631.00 L89.75 631.89 L90.00 632.76 L90.25 633.62 L90.50 634.49 L90.75 635.36 L91.00 636.25 L91.24 637.29 L91.44 638.43 L91.65 639.57 L91.88 640.65 L92.15 641.57 L92.50 642.25 L92.71 642.50 L92.94 642.70 L93.18 642.85 L93.43 642.97 L93.70 643.06 L94.00 643.15 L94.45 643.26 L94.98 643.35 L95.54 643.40 L96.10 643.40 L96.60 643.32 L97.00 643.15 L97.28 642.91 L97.50 642.61 L97.68 642.24 L97.82 641.81 L97.96 641.31 L98.10 640.75 L98.42 638.94 L98.66 636.55 L98.83 633.77 L98.97 630.79 L99.10 627.80 L99.25 625.00 L99.40 621.94 L99.53 618.42 L99.65 614.89 L99.77 611.81 L99.92 609.63 L100.10 608.80 L100.32 609.71 L100.56 612.07 L100.83 615.34 L101.11 618.95 L101.40 622.36 L101.70 625.00 L101.90 626.39 L102.10 627.83 L102.31 629.19 L102.52 630.33 L102.72 631.12 L102.90 631.40 L103.16 630.57 L103.38 628.37 L103.58 625.21 L103.77 621.49 L103.97 617.62 L104.20 614.00 L104.56 608.34 L104.96 601.33 L105.37 594.03 L105.79 587.50 L106.20 582.80 L106.60 581.00 L106.91 582.10 L107.21 585.02 L107.51 589.16 L107.81 593.93 L108.10 598.74 L108.40 603.00 L108.70 607.20 L108.99 611.63 L109.28 616.10 L109.58 620.44 L109.92 624.46 L110.30 628.00 L110.58 630.19 L110.89 632.46 L111.21 634.61 L111.52 636.41 L111.83 637.65 L112.10 638.10 L112.49 636.44 L112.81 632.18 L113.09 626.30 L113.35 619.79 L113.61 613.63 L113.90 608.80 L114.07 606.33 L114.20 603.93 L114.34 601.67 L114.51 599.64 L114.75 597.93 L115.10 596.60 L115.29 596.21 L115.51 595.94 L115.75 595.73 L115.98 595.51 L116.20 595.22 L116.40 594.80 L116.86 591.93 L117.13 587.31 L117.27 581.96 L117.35 576.88 L117.44 573.09 L117.60 571.60 L117.88 573.45 L118.18 578.30 L118.49 585.05 L118.81 592.64 L119.11 599.98 L119.40 606.00 L119.61 610.20 L119.82 614.74 L120.03 619.14 L120.23 622.90 L120.42 625.52 L120.60 626.50 L120.90 623.27 L121.16 614.71 L121.41 602.45 L121.63 588.14 L121.86 573.45 L122.10 560.00 L122.40 541.87 L122.69 519.98 L122.98 497.49 L123.27 477.54 L123.58 463.26 L123.90 457.80 L124.24 463.83 L124.58 479.35 L124.93 500.56 L125.30 523.62 L125.69 544.71 L126.10 560.00 L126.31 564.92 L126.51 569.10 L126.73 572.81 L126.94 576.34 L127.17 579.98 L127.40 584.00 L127.69 589.93 L128.01 596.99 L128.33 604.18 L128.65 610.54 L128.94 615.07 L129.20 616.80 L129.47 613.93 L129.68 606.37 L129.85 595.65 L130.01 583.32 L130.19 570.92 L130.40 560.00 L130.67 548.39 L130.95 534.94 L131.26 521.42 L131.57 509.58 L131.89 501.19 L132.20 498.00 L132.51 501.22 L132.82 509.68 L133.13 521.59 L133.45 535.14 L133.77 548.55 L134.10 560.00 L134.40 569.39 L134.69 579.15 L134.99 588.79 L135.30 597.80 L135.64 605.70 L136.00 612.00 L136.17 614.42 L136.35 616.79 L136.53 618.94 L136.72 620.69 L136.91 621.87 L137.10 622.30 L137.35 621.05 L137.59 617.92 L137.85 613.86 L138.11 609.79 L138.39 606.66 L138.70 605.40 L138.94 605.78 L139.19 606.80 L139.45 608.29 L139.71 610.05 L139.96 611.92 L140.20 613.70 L140.52 616.55 L140.80 619.87 L141.06 623.40 L141.33 626.93 L141.63 630.21 L142.00 633.00 L142.23 634.58 L142.44 636.14 L142.66 637.60 L142.93 638.89 L143.30 639.91 L143.80 640.60 L144.16 640.80 L144.56 640.88 L144.99 640.87 L145.43 640.83 L145.87 640.79 L146.30 640.80 L146.71 640.88 L147.13 641.00 L147.54 641.12 L147.94 641.21 L148.33 641.25 L148.70 641.20 L149.06 641.05 L149.39 640.84 L149.71 640.56 L150.02 640.23 L150.31 639.84 L150.60 639.40 L151.09 638.19 L151.53 636.46 L151.93 634.56 L152.30 632.80 L152.65 631.50 L153.00 631.00 L153.28 631.44 L153.55 632.54 L153.81 633.97 L154.05 635.39 L154.28 636.48 L154.50 636.90 L154.88 635.33 L155.15 631.32 L155.35 625.76 L155.55 619.55 L155.78 613.60 L156.10 608.80 L156.40 605.75 L156.73 602.49 L157.08 599.37 L157.44 596.72 L157.78 594.88 L158.10 594.20 L158.49 595.91 L158.82 600.32 L159.13 606.43 L159.46 613.21 L159.84 619.64 L160.30 624.70 L160.63 627.37 L160.94 629.95 L161.27 632.38 L161.67 634.59 L162.16 636.52 L162.80 638.10 L163.24 638.89 L163.74 639.64 L164.27 640.31 L164.81 640.83 L165.33 641.15 L165.80 641.20 L166.42 640.41 L166.98 638.68 L167.49 636.48 L167.97 634.31 L168.44 632.65 L168.90 632.00 L169.30 632.62 L169.64 634.16 L169.96 636.18 L170.31 638.22 L170.74 639.85 L171.30 640.60 L171.84 640.55 L172.47 640.17 L173.15 639.55 L173.83 638.77 L174.46 637.89 L175.00 637.00 L175.65 635.60 L176.15 634.06 L176.54 632.30 L176.87 630.25 L177.17 627.84 L177.50 625.00 L178.43 608.85 L179.02 583.67 L179.39 554.81 L179.66 527.58 L179.92 507.34 L180.30 499.40 L180.66 503.59 L181.02 514.49 L181.37 529.59 L181.74 546.38 L182.11 562.35 L182.50 575.00 L182.76 582.30 L183.00 590.00 L183.25 597.33 L183.52 603.52 L183.83 607.80 L184.20 609.40 L184.57 607.66 L184.99 603.29 L185.45 597.60 L185.90 591.91 L186.33 587.54 L186.70 585.80 L187.09 588.45 L187.37 595.21 L187.60 604.33 L187.85 614.08 L188.16 622.72 L188.60 628.50 L188.80 629.87 L189.00 631.18 L189.22 632.33 L189.44 633.25 L189.67 633.87 L189.90 634.10 L190.10 633.87 L190.30 633.27 L190.51 632.44 L190.72 631.52 L190.95 630.66 L191.20 630.00 L191.39 629.63 L191.60 629.24 L191.81 628.88 L192.02 628.59 L192.22 628.40 L192.40 628.35 L192.64 628.61 L192.84 629.22 L193.02 630.08 L193.18 631.06 L193.34 632.07 L193.50 633.00 L193.67 634.13 L193.81 635.41 L193.93 636.73 L194.09 637.97 L194.30 639.02 L194.60 639.75 L194.78 639.98 L194.97 640.18 L195.18 640.33 L195.39 640.44 L195.60 640.50 L195.80 640.50 L196.03 640.36 L196.25 640.07 L196.47 639.71 L196.68 639.35 L196.89 639.09 L197.10 639.00 L197.33 639.15 L197.55 639.49 L197.76 639.96 L197.98 640.50 L198.23 641.03 L198.50 641.50 L198.87 642.03 L199.29 642.63 L199.73 643.23 L200.18 643.75 L200.61 644.11 L201.00 644.25 L201.27 644.16 L201.53 643.93 L201.78 643.60 L202.02 643.22 L202.26 642.84 L202.50 642.50 L202.75 642.14 L202.99 641.73 L203.23 641.31 L203.47 640.94 L203.73 640.65 L204.00 640.50 L204.24 640.53 L204.49 640.67 L204.75 640.88 L205.01 641.08 L205.26 641.21 L205.50 641.20 L205.99 640.49 L206.44 639.05 L206.86 637.26 L207.27 635.50 L207.68 634.15 L208.10 633.60 L208.42 633.78 L208.74 634.29 L209.06 635.01 L209.38 635.86 L209.69 636.73 L210.00 637.50 L210.32 638.32 L210.62 639.23 L210.91 640.15 L211.22 641.03 L211.54 641.80 L211.90 642.40 L212.13 642.68 L212.37 642.94 L212.62 643.16 L212.87 643.33 L213.13 643.45 L213.40 643.50 L213.70 643.48 L214.01 643.38 L214.33 643.22 L214.65 643.02 L214.94 642.77 L215.20 642.50 L215.49 642.11 L215.72 641.67 L215.92 641.16 L216.09 640.56 L216.24 639.84 L216.40 639.00 L216.80 634.98 L216.99 629.24 L217.04 622.33 L217.03 614.78 L217.03 607.16 L217.10 600.00 L217.24 591.58 L217.36 581.76 L217.50 571.84 L217.65 563.14 L217.85 556.95 L218.10 554.60 L218.43 557.00 L218.82 563.31 L219.25 572.14 L219.70 582.11 L220.12 591.86 L220.50 600.00 L220.76 605.84 L220.99 611.76 L221.21 617.52 L221.44 622.88 L221.69 627.62 L222.00 631.50 L222.14 633.08 L222.25 634.56 L222.36 635.91 L222.52 637.06 L222.75 637.97 L223.10 638.60 L223.30 638.78 L223.52 638.89 L223.76 638.96 L224.01 638.99 L224.25 639.00 L224.50 639.00 L224.76 638.96 L225.03 638.87 L225.30 638.75 L225.57 638.64 L225.84 638.58 L226.10 638.60 L226.43 638.76 L226.75 639.03 L227.06 639.38 L227.37 639.77 L227.69 640.15 L228.00 640.50 L228.32 640.87 L228.65 641.29 L228.99 641.72 L229.31 642.09 L229.62 642.33 L229.90 642.40 L230.17 642.17 L230.41 641.68 L230.63 641.04 L230.84 640.41 L231.06 639.92 L231.30 639.70 L231.49 639.78 L231.70 640.03 L231.90 640.35 L232.10 640.67 L232.30 640.92 L232.50 641.00 L232.74 640.86 L232.98 640.53 L233.21 640.08 L233.44 639.53 L233.67 638.96 L233.90 638.40 L234.23 637.44 L234.56 636.22 L234.88 634.94 L235.21 633.77 L235.55 632.89 L235.90 632.50 L236.08 632.50 L236.27 632.60 L236.46 632.76 L236.65 632.98 L236.83 633.23 L237.00 633.50 L237.30 634.23 L237.54 635.21 L237.75 636.35 L237.96 637.55 L238.20 638.70 L238.50 639.70 L238.77 640.46 L239.04 641.22 L239.32 641.94 L239.65 642.61 L240.03 643.17 L240.50 643.60 L241.06 643.88 L241.71 644.07 L242.43 644.17 L243.15 644.19 L243.82 644.13 L244.40 644.00 L244.80 643.82 L245.15 643.55 L245.47 643.23 L245.78 642.89 L246.09 642.57 L246.40 642.30 L246.67 642.09 L246.94 641.86 L247.21 641.64 L247.47 641.46 L247.73 641.34 L248.00 641.30 L248.28 641.40 L248.56 641.64 L248.84 641.94 L249.12 642.25 L249.40 642.49 L249.70 642.60 L250.02 642.56 L250.35 642.41 L250.69 642.20 L251.03 641.95 L251.37 641.71 L251.70 641.50 L252.03 641.34 L252.36 641.20 L252.69 641.07 L253.01 640.92 L253.31 640.73 L253.60 640.50 L253.91 640.07 L254.19 639.49 L254.44 638.86 L254.68 638.29 L254.93 637.87 L255.20 637.70 L255.49 637.84 L255.79 638.21 L256.09 638.73 L256.39 639.34 L256.70 639.96 L257.00 640.50 L257.31 641.06 L257.61 641.70 L257.91 642.35 L258.22 642.93 L258.55 643.37 L258.90 643.60 L259.20 643.61 L259.53 643.51 L259.86 643.33 L260.19 643.10 L260.51 642.85 L260.80 642.60 L261.07 642.30 L261.30 641.91 L261.52 641.50 L261.74 641.12 L261.96 640.84 L262.20 640.70 L262.41 640.74 L262.62 640.90 L262.84 641.12 L263.06 641.35 L263.28 641.53 L263.50 641.60 L263.72 641.53 L263.93 641.35 L264.14 641.13 L264.36 640.91 L264.58 640.75 L264.80 640.70 L265.10 640.85 L265.41 641.17 L265.72 641.60 L266.04 642.07 L266.36 642.53 L266.70 642.90 L267.01 643.19 L267.32 643.47 L267.64 643.73 L267.97 643.97 L268.32 644.16 L268.70 644.30 L269.20 644.39 L269.75 644.42 L270.33 644.39 L270.91 644.30 L271.48 644.17 L272.00 644.00 L272.48 643.78 L272.94 643.52 L273.38 643.20 L273.80 642.85 L274.21 642.44 L274.60 642.00 L275.09 641.31 L275.54 640.49 L275.97 639.59 L276.38 638.68 L276.79 637.80 L277.20 637.00 L277.54 636.34 L277.88 635.63 L278.22 634.94 L278.55 634.35 L278.88 633.94 L279.20 633.80 L279.54 634.01 L279.88 634.54 L280.21 635.28 L280.54 636.13 L280.87 636.97 L281.20 637.70 L281.51 638.32 L281.82 638.96 L282.12 639.59 L282.43 640.20 L282.75 640.77 L283.10 641.30 L283.42 641.75 L283.75 642.21 L284.10 642.65 L284.45 643.03 L284.78 643.29 L285.10 643.40 L285.33 643.33 L285.54 643.13 L285.75 642.86 L285.95 642.59 L286.17 642.38 L286.40 642.30 L286.71 642.43 L287.05 642.76 L287.39 643.19 L287.74 643.60 L288.08 643.91 L288.40 644.00 L288.75 643.75 L289.07 643.22 L289.38 642.52 L289.69 641.78 L290.03 641.13 L290.40 640.70 L290.69 640.56 L291.01 640.50 L291.33 640.49 L291.66 640.48 L291.98 640.43 L292.30 640.30 L292.76 639.87 L293.22 639.21 L293.67 638.47 L294.12 637.77 L294.57 637.23 L295.00 637.00 L295.33 637.07 L295.65 637.31 L295.97 637.65 L296.28 638.02 L296.59 638.36 L296.90 638.60 L297.12 638.69 L297.35 638.73 L297.57 638.76 L297.78 638.79 L297.99 638.86 L298.20 639.00 L298.57 639.51 L298.91 640.27 L299.23 641.17 L299.55 642.09 L299.87 642.94 L300.20 643.60 L300.40 643.92 L300.59 644.22 L300.79 644.49 L300.99 644.71 L301.23 644.89 L301.50 645.00 L301.96 645.04 L302.51 644.97 L303.10 644.80 L303.71 644.56 L304.29 644.25 L304.80 643.90 L305.32 643.30 L305.78 642.48 L306.21 641.56 L306.60 640.70 L307.00 640.04 L307.40 639.70 L307.62 639.67 L307.85 639.71 L308.07 639.80 L308.29 639.94 L308.50 640.11 L308.70 640.30 L309.01 640.76 L309.30 641.45 L309.57 642.21 L309.82 642.91 L310.07 643.42 L310.30 643.60 L310.68 642.90 L310.99 641.18 L311.26 638.74 L311.49 635.93 L311.73 633.08 L312.00 630.50 L312.33 627.40 L312.65 623.74 L312.97 620.02 L313.30 616.74 L313.65 614.40 L314.00 613.50 L314.29 614.19 L314.57 616.01 L314.85 618.52 L315.17 621.30 L315.54 623.94 L316.00 626.00 L316.38 627.05 L316.81 627.96 L317.27 628.80 L317.73 629.63 L318.18 630.51 L318.60 631.50 L319.08 633.00 L319.53 634.70 L319.96 636.48 L320.38 638.21 L320.79 639.76 L321.20 641.00 L321.39 641.52 L321.54 641.99 L321.68 642.41 L321.87 642.79 L322.12 643.11 L322.50 643.40 L323.65 643.76 L325.24 643.86 L327.13 643.79 L329.17 643.63 L331.21 643.47 L333.10 643.40" fill="none" stroke="#1f9e3c" stroke-width="1.50" stroke-linejoin="round" stroke-linecap="round"/>
<path d="M411.00 213.30 L416.11 213.32 L421.56 213.36 L427.00 213.41 L432.11 213.43 L436.55 213.40 L440.00 213.30 L441.07 213.22 L441.98 213.11 L442.76 212.99 L443.49 212.89 L444.22 212.82 L445.00 212.80 L445.83 212.86 L446.67 212.99 L447.50 213.15 L448.33 213.31 L449.17 213.44 L450.00 213.50 L450.80 213.48 L451.57 213.40 L452.33 213.29 L453.13 213.17 L454.01 213.07 L455.00 213.00 L457.01 212.97 L459.32 213.00 L461.86 213.08 L464.54 213.17 L467.28 213.25 L470.00 213.30 L473.25 213.33 L476.71 213.35 L480.25 213.35 L483.74 213.35 L487.03 213.33 L490.00 213.30 L491.96 213.35 L493.89 213.49 L495.72 213.63 L497.39 213.66 L498.84 213.48 L500.00 213.00 L500.63 212.47 L501.09 211.85 L501.42 211.12 L501.69 210.26 L501.93 209.26 L502.20 208.10 L502.84 203.55 L503.22 197.16 L503.43 189.73 L503.56 182.03 L503.72 174.86 L504.00 169.00 L504.23 165.82 L504.48 162.53 L504.74 159.43 L505.00 156.84 L505.25 155.06 L505.50 154.40 L505.76 155.24 L506.00 157.47 L506.24 160.67 L506.48 164.44 L506.73 168.35 L507.00 172.00 L507.34 177.52 L507.64 184.31 L507.95 191.37 L508.33 197.70 L508.83 202.31 L509.50 204.20 L509.73 204.17 L509.99 203.98 L510.25 203.65 L510.52 203.20 L510.77 202.64 L511.00 202.00 L511.84 195.81 L512.20 185.31 L512.26 171.98 L512.18 157.32 L512.10 142.83 L512.20 130.00 L512.42 118.11 L512.66 104.74 L512.90 91.50 L513.16 80.03 L513.42 71.95 L513.70 68.90 L514.00 72.19 L514.32 80.79 L514.65 92.79 L514.98 106.26 L515.30 119.30 L515.60 130.00 L515.79 136.74 L515.94 143.20 L516.08 149.41 L516.25 155.37 L516.48 161.09 L516.80 166.60 L517.11 171.29 L517.43 176.38 L517.80 181.32 L518.22 185.57 L518.71 188.58 L519.30 189.80 L519.54 189.76 L519.79 189.54 L520.05 189.17 L520.32 188.68 L520.57 188.08 L520.80 187.40 L521.59 182.44 L522.05 174.53 L522.30 164.50 L522.42 153.18 L522.52 141.41 L522.70 130.00 L522.97 112.25 L523.16 90.43 L523.30 67.78 L523.45 47.58 L523.63 33.06 L523.90 27.50 L524.27 33.32 L524.72 48.39 L525.21 69.16 L525.71 92.07 L526.18 113.53 L526.60 130.00 L526.79 137.22 L526.93 143.73 L527.07 149.74 L527.23 155.42 L527.46 160.98 L527.80 166.60 L528.21 172.25 L528.71 178.56 L529.26 184.76 L529.83 190.12 L530.38 193.88 L530.90 195.30 L531.31 193.65 L531.69 189.53 L532.07 184.17 L532.45 178.81 L532.85 174.67 L533.30 173.00 L533.61 173.36 L533.93 174.37 L534.27 175.84 L534.60 177.61 L534.91 179.48 L535.20 181.30 L535.57 184.50 L535.85 188.32 L536.08 192.44 L536.32 196.53 L536.61 200.26 L537.00 203.30 L537.23 204.69 L537.43 205.94 L537.64 207.09 L537.92 208.13 L538.29 209.10 L538.80 210.00 L539.44 210.81 L540.23 211.58 L541.10 212.28 L542.00 212.88 L542.89 213.33 L543.70 213.60 L544.26 213.68 L544.83 213.69 L545.39 213.63 L545.92 213.49 L546.40 213.28 L546.80 213.00 L547.13 212.60 L547.36 212.11 L547.53 211.53 L547.67 210.88 L547.81 210.17 L548.00 209.40 L548.42 207.47 L548.86 204.88 L549.33 202.08 L549.81 199.51 L550.30 197.64 L550.80 196.90 L551.22 197.54 L551.65 199.15 L552.09 201.26 L552.54 203.38 L553.01 205.02 L553.50 205.70 L553.96 205.23 L554.45 204.01 L554.95 202.41 L555.46 200.80 L555.98 199.54 L556.50 199.00 L556.90 199.11 L557.30 199.49 L557.71 200.07 L558.11 200.77 L558.51 201.54 L558.90 202.30 L559.45 203.76 L559.91 205.60 L560.35 207.60 L560.84 209.55 L561.43 211.22 L562.20 212.40 L562.80 212.88 L563.46 213.24 L564.17 213.50 L564.90 213.64 L565.61 213.69 L566.30 213.65 L566.98 213.41 L567.65 212.94 L568.31 212.36 L568.97 211.80 L569.63 211.37 L570.30 211.20 L570.99 211.40 L571.69 211.91 L572.39 212.56 L573.08 213.17 L573.75 213.59 L574.40 213.65 L575.31 212.77 L576.15 210.97 L576.96 208.74 L577.74 206.55 L578.52 204.87 L579.30 204.20 L579.96 204.60 L580.60 205.64 L581.22 207.08 L581.86 208.66 L582.55 210.12 L583.30 211.20 L583.92 211.81 L584.57 212.37 L585.24 212.85 L585.94 213.25 L586.66 213.52 L587.40 213.65 L588.31 213.49 L589.29 213.02 L590.30 212.39 L591.30 211.77 L592.25 211.32 L593.10 211.20 L593.67 211.40 L594.15 211.79 L594.59 212.29 L595.06 212.81 L595.61 213.30 L596.30 213.65 L598.12 214.03 L600.48 214.20 L603.14 214.20 L605.82 214.09 L608.26 213.89 L610.20 213.65 L611.03 213.47 L611.77 213.22 L612.44 212.95 L613.05 212.69 L613.63 212.50 L614.20 212.40 L614.59 212.43 L614.95 212.55 L615.30 212.69 L615.63 212.82 L615.96 212.87 L616.30 212.80 L616.87 212.24 L617.42 211.23 L617.96 210.00 L618.50 208.81 L619.04 207.90 L619.60 207.50 L620.05 207.68 L620.50 208.21 L620.95 208.92 L621.41 209.63 L621.89 210.18 L622.40 210.40 L623.14 210.00 L623.94 209.01 L624.78 207.74 L625.62 206.48 L626.44 205.53 L627.20 205.20 L627.93 205.70 L628.60 206.83 L629.24 208.33 L629.88 209.88 L630.56 211.20 L631.30 212.00 L631.84 212.25 L632.42 212.42 L633.01 212.50 L633.59 212.46 L634.13 212.30 L634.60 212.00 L635.37 210.51 L635.82 208.02 L636.05 204.87 L636.17 201.41 L636.28 198.01 L636.50 195.00 L636.76 192.28 L637.01 189.24 L637.25 186.23 L637.51 183.63 L637.78 181.80 L638.10 181.10 L638.51 182.07 L638.96 184.61 L639.45 188.15 L639.95 192.11 L640.47 195.92 L641.00 199.00 L641.38 200.88 L641.75 202.71 L642.12 204.45 L642.53 206.08 L642.98 207.54 L643.50 208.80 L643.85 209.50 L644.20 210.14 L644.58 210.71 L644.99 211.21 L645.45 211.65 L646.00 212.00 L646.80 212.26 L647.74 212.36 L648.77 212.36 L649.81 212.32 L650.77 212.31 L651.60 212.40 L652.07 212.55 L652.50 212.75 L652.90 212.97 L653.28 213.16 L653.65 213.28 L654.00 213.30 L654.28 213.19 L654.52 212.99 L654.74 212.73 L654.99 212.46 L655.29 212.20 L655.70 212.00 L657.50 211.70 L660.08 211.63 L663.14 211.70 L666.36 211.84 L669.42 211.97 L672.00 212.00 L673.58 211.91 L675.13 211.75 L676.61 211.58 L677.96 211.47 L679.10 211.48 L680.00 211.70 L680.34 211.94 L680.58 212.27 L680.78 212.64 L680.95 212.99 L681.15 213.26 L681.40 213.40 L681.73 213.36 L682.09 213.18 L682.47 212.89 L682.88 212.57 L683.32 212.25 L683.80 212.00 L684.60 211.70 L685.52 211.39 L686.51 211.11 L687.53 210.87 L688.54 210.71 L689.50 210.65 L690.34 210.72 L691.17 210.91 L692.00 211.16 L692.81 211.42 L693.61 211.65 L694.40 211.80 L695.11 211.84 L695.83 211.83 L696.54 211.79 L697.23 211.75 L697.89 211.75 L698.50 211.80 L698.94 211.92 L699.35 212.09 L699.73 212.29 L700.11 212.47 L700.50 212.58 L700.90 212.60 L701.41 212.46 L701.94 212.18 L702.47 211.81 L703.01 211.40 L703.56 211.00 L704.10 210.65 L704.64 210.35 L705.19 210.07 L705.74 209.79 L706.29 209.52 L706.84 209.25 L707.40 209.00 L707.95 208.73 L708.52 208.42 L709.09 208.12 L709.65 207.87 L710.19 207.72 L710.70 207.70 L711.13 207.87 L711.52 208.22 L711.89 208.64 L712.27 209.05 L712.67 209.37 L713.10 209.50 L713.71 209.31 L714.36 208.81 L715.05 208.15 L715.75 207.48 L716.47 206.95 L717.20 206.70 L717.97 206.82 L718.76 207.20 L719.58 207.73 L720.39 208.29 L721.20 208.75 L722.00 209.00 L722.70 209.04 L723.41 208.99 L724.11 208.87 L724.80 208.69 L725.47 208.46 L726.10 208.20 L726.68 207.90 L727.23 207.53 L727.75 207.13 L728.27 206.69 L728.78 206.24 L729.30 205.80 L729.86 205.25 L730.44 204.59 L731.00 203.92 L731.56 203.33 L732.10 202.93 L732.60 202.80 L733.02 203.02 L733.39 203.51 L733.75 204.16 L734.11 204.87 L734.52 205.52 L735.00 206.00 L735.60 206.37 L736.27 206.71 L736.99 206.98 L737.72 207.17 L738.44 207.22 L739.10 207.10 L739.87 206.54 L740.60 205.53 L741.29 204.32 L741.97 203.12 L742.63 202.17 L743.30 201.70 L743.74 201.72 L744.19 201.93 L744.64 202.24 L745.07 202.56 L745.46 202.81 L745.80 202.90 L745.97 202.85 L746.11 202.74 L746.23 202.60 L746.36 202.46 L746.51 202.35 L746.70 202.30 L747.40 202.53 L748.36 203.14 L749.46 203.93 L750.59 204.71 L751.64 205.26 L752.50 205.40 L753.01 205.15 L753.46 204.67 L753.85 204.06 L754.23 203.43 L754.60 202.88 L755.00 202.50 L755.28 202.37 L755.56 202.31 L755.84 202.28 L756.12 202.26 L756.41 202.21 L756.70 202.10 L757.11 201.82 L757.53 201.42 L757.96 200.97 L758.38 200.54 L758.80 200.19 L759.20 200.00 L759.47 199.96 L759.72 199.98 L759.97 200.04 L760.22 200.13 L760.50 200.26 L760.80 200.40 L761.49 200.88 L762.29 201.63 L763.16 202.49 L764.06 203.28 L764.95 203.84 L765.80 204.00 L766.76 203.47 L767.73 202.30 L768.69 200.83 L769.61 199.36 L770.48 198.21 L771.25 197.70 L771.64 197.73 L772.03 197.88 L772.39 198.14 L772.73 198.46 L773.03 198.82 L773.30 199.20 L773.53 199.80 L773.64 200.58 L773.70 201.42 L773.78 202.22 L773.92 202.85 L774.20 203.20 L774.61 203.20 L775.13 202.94 L775.70 202.53 L776.32 202.08 L776.93 201.70 L777.50 201.50 L778.00 201.52 L778.50 201.67 L779.01 201.87 L779.50 202.05 L779.97 202.16 L780.40 202.10 L780.81 201.82 L781.15 201.38 L781.47 200.83 L781.78 200.25 L782.12 199.68 L782.50 199.20 L782.93 198.75 L783.40 198.27 L783.89 197.81 L784.39 197.43 L784.89 197.17 L785.40 197.10 L786.01 197.31 L786.64 197.80 L787.28 198.48 L787.92 199.25 L788.56 200.02 L789.20 200.70" fill="none" stroke="#000" stroke-width="1.40" stroke-linejoin="round" stroke-linecap="round"/>
<path d="M411.00 428.25 L416.09 428.28 L421.47 428.33 L426.86 428.39 L431.95 428.42 L436.43 428.38 L440.00 428.25 L441.28 428.13 L442.38 427.98 L443.36 427.81 L444.26 427.66 L445.12 427.54 L446.00 427.50 L446.73 427.55 L447.45 427.66 L448.14 427.79 L448.80 427.92 L449.43 428.00 L450.00 428.00 L450.37 427.92 L450.71 427.79 L451.02 427.63 L451.33 427.48 L451.65 427.36 L452.00 427.30 L452.45 427.34 L452.90 427.46 L453.38 427.63 L453.88 427.81 L454.42 427.98 L455.00 428.10 L456.03 428.21 L457.24 428.28 L458.53 428.32 L459.81 428.31 L461.00 428.24 L462.00 428.10 L462.54 427.94 L463.01 427.71 L463.45 427.46 L463.87 427.22 L464.28 427.06 L464.70 427.00 L465.06 427.07 L465.38 427.23 L465.70 427.45 L466.04 427.70 L466.46 427.92 L467.00 428.10 L469.63 428.38 L473.50 428.44 L478.04 428.36 L482.68 428.24 L486.86 428.15 L490.00 428.20 L491.06 428.29 L491.97 428.41 L492.78 428.54 L493.53 428.65 L494.26 428.73 L495.00 428.75 L495.63 428.71 L496.24 428.62 L496.83 428.50 L497.42 428.38 L498.00 428.27 L498.60 428.20 L499.24 428.21 L499.92 428.31 L500.61 428.42 L501.25 428.48 L501.83 428.43 L502.30 428.20 L502.70 427.65 L502.93 426.88 L503.05 425.94 L503.11 424.87 L503.18 423.70 L503.30 422.50 L503.56 419.80 L503.79 416.27 L504.01 412.48 L504.28 409.00 L504.63 406.42 L505.10 405.30 L505.27 405.30 L505.46 405.39 L505.65 405.57 L505.84 405.81 L506.03 406.09 L506.20 406.40 L506.58 407.46 L506.89 408.95 L507.17 410.72 L507.42 412.62 L507.69 414.51 L508.00 416.25 L508.34 418.01 L508.69 420.01 L509.06 422.00 L509.43 423.73 L509.78 424.95 L510.10 425.40 L510.46 424.77 L510.79 423.09 L511.11 420.69 L511.40 417.83 L511.66 414.84 L511.90 412.00 L512.16 407.16 L512.31 401.05 L512.42 394.64 L512.51 388.88 L512.66 384.71 L512.90 383.10 L513.10 383.60 L513.31 384.94 L513.55 386.85 L513.80 389.06 L514.05 391.30 L514.30 393.30 L514.60 395.60 L514.92 398.30 L515.25 401.04 L515.56 403.45 L515.85 405.15 L516.10 405.80 L516.28 404.88 L516.42 402.61 L516.53 399.65 L516.63 396.69 L516.75 394.41 L516.90 393.50 L517.11 394.24 L517.35 396.18 L517.60 398.92 L517.86 402.06 L518.13 405.19 L518.40 407.90 L518.62 410.35 L518.80 412.98 L518.98 415.60 L519.21 418.02 L519.53 420.05 L520.00 421.50 L520.24 421.93 L520.51 422.32 L520.80 422.64 L521.09 422.88 L521.36 423.01 L521.60 423.00 L522.14 421.81 L522.46 419.08 L522.62 415.25 L522.70 410.78 L522.77 406.12 L522.90 401.70 L523.16 395.77 L523.40 389.52 L523.63 382.88 L523.84 375.79 L524.03 368.18 L524.20 360.00 L524.36 343.10 L524.41 321.44 L524.40 298.51 L524.43 277.80 L524.57 262.80 L524.90 257.00 L525.01 257.37 L525.12 258.29 L525.24 259.50 L525.36 260.70 L525.48 261.63 L525.60 262.00 L525.81 260.69 L526.03 257.43 L526.23 253.19 L526.44 248.96 L526.63 245.70 L526.80 244.40 L526.99 245.53 L527.15 248.57 L527.30 253.03 L527.44 258.42 L527.57 264.24 L527.70 270.00 L527.93 282.37 L528.12 297.66 L528.30 314.48 L528.48 331.42 L528.67 347.06 L528.90 360.00 L529.02 366.29 L529.12 372.09 L529.22 377.45 L529.37 382.39 L529.58 386.98 L529.90 391.25 L530.19 394.15 L530.53 397.20 L530.90 400.08 L531.28 402.51 L531.65 404.18 L532.00 404.80 L532.42 403.01 L532.81 398.57 L533.18 392.79 L533.55 387.02 L533.92 382.58 L534.30 380.80 L534.60 381.51 L534.92 383.40 L535.23 386.11 L535.53 389.25 L535.82 392.48 L536.10 395.40 L536.36 398.74 L536.56 402.35 L536.74 406.05 L536.96 409.71 L537.26 413.16 L537.70 416.25 L538.09 418.33 L538.49 420.39 L538.95 422.34 L539.47 424.10 L540.08 425.58 L540.80 426.70 L541.27 427.15 L541.77 427.49 L542.30 427.74 L542.85 427.93 L543.42 428.07 L544.00 428.20 L544.66 428.35 L545.36 428.50 L546.08 428.61 L546.80 428.62 L547.48 428.50 L548.10 428.20 L549.01 426.87 L549.77 424.63 L550.43 421.99 L551.04 419.46 L551.65 417.56 L552.30 416.80 L552.91 417.43 L553.53 419.04 L554.15 421.12 L554.75 423.21 L555.34 424.79 L555.90 425.40 L556.59 424.18 L557.25 421.22 L557.86 417.40 L558.46 413.59 L559.03 410.66 L559.60 409.50 L560.07 410.51 L560.41 413.08 L560.73 416.53 L561.15 420.21 L561.77 423.46 L562.70 425.60 L563.42 426.29 L564.25 426.80 L565.15 427.16 L566.08 427.40 L567.01 427.57 L567.90 427.70 L568.71 427.73 L569.53 427.63 L570.36 427.46 L571.16 427.30 L571.91 427.19 L572.60 427.20 L573.03 427.30 L573.40 427.47 L573.74 427.66 L574.09 427.86 L574.50 428.05 L575.00 428.20 L576.28 428.41 L577.82 428.53 L579.58 428.60 L581.52 428.64 L583.60 428.66 L585.80 428.70 L590.18 428.80 L595.55 428.92 L601.31 429.00 L606.87 429.02 L611.64 428.93 L615.00 428.70 L615.78 428.56 L616.44 428.39 L616.99 428.20 L617.49 428.02 L617.94 427.88 L618.40 427.80 L618.70 427.79 L618.97 427.82 L619.22 427.87 L619.47 427.91 L619.72 427.93 L620.00 427.90 L620.39 427.76 L620.80 427.52 L621.22 427.24 L621.65 426.98 L622.08 426.78 L622.50 426.70 L622.91 426.80 L623.32 427.05 L623.73 427.37 L624.15 427.68 L624.57 427.88 L625.00 427.90 L625.74 427.37 L626.53 426.29 L627.34 424.95 L628.14 423.64 L628.91 422.66 L629.60 422.30 L630.12 422.63 L630.58 423.42 L631.00 424.46 L631.44 425.55 L631.92 426.50 L632.50 427.10 L633.08 427.35 L633.75 427.50 L634.45 427.55 L635.14 427.50 L635.76 427.35 L636.25 427.10 L636.62 426.73 L636.88 426.26 L637.06 425.67 L637.21 424.99 L637.34 424.19 L637.50 423.30 L637.90 419.86 L638.16 415.03 L638.36 409.46 L638.56 403.82 L638.82 398.78 L639.20 395.00 L639.43 393.63 L639.68 392.30 L639.94 391.08 L640.21 390.10 L640.47 389.44 L640.70 389.20 L640.95 389.61 L641.18 390.66 L641.40 392.18 L641.61 393.96 L641.80 395.80 L642.00 397.50 L642.23 399.67 L642.44 402.04 L642.63 404.52 L642.83 407.01 L643.04 409.44 L643.30 411.70 L643.54 413.52 L643.79 415.32 L644.06 417.07 L644.35 418.73 L644.66 420.29 L645.00 421.70 L645.23 422.63 L645.44 423.55 L645.67 424.41 L645.93 425.17 L646.27 425.80 L646.70 426.25 L647.17 426.47 L647.74 426.57 L648.36 426.59 L648.97 426.52 L649.54 426.40 L650.00 426.25 L650.26 426.08 L650.48 425.82 L650.66 425.54 L650.84 425.28 L651.03 425.08 L651.25 425.00 L651.55 425.11 L651.86 425.40 L652.19 425.79 L652.54 426.19 L652.91 426.53 L653.30 426.70 L653.80 426.68 L654.35 426.51 L654.93 426.24 L655.53 425.93 L656.12 425.63 L656.70 425.40 L657.23 425.24 L657.74 425.08 L658.24 424.95 L658.77 424.82 L659.35 424.70 L660.00 424.60 L661.28 424.45 L662.78 424.32 L664.41 424.23 L666.06 424.17 L667.62 424.16 L669.00 424.20 L669.84 424.29 L670.59 424.44 L671.31 424.62 L672.02 424.77 L672.77 424.88 L673.60 424.90 L674.95 424.71 L676.46 424.32 L678.04 423.82 L679.64 423.32 L681.18 422.92 L682.60 422.70 L683.61 422.68 L684.58 422.75 L685.52 422.88 L686.42 423.03 L687.32 423.18 L688.20 423.30 L688.98 423.42 L689.74 423.56 L690.49 423.71 L691.23 423.83 L691.97 423.87 L692.70 423.80 L693.46 423.55 L694.19 423.14 L694.92 422.65 L695.66 422.16 L696.45 421.75 L697.30 421.50 L698.45 421.46 L699.68 421.61 L700.97 421.89 L702.30 422.22 L703.65 422.52 L705.00 422.70 L706.49 422.79 L708.06 422.84 L709.64 422.85 L711.20 422.83 L712.67 422.78 L714.00 422.70 L714.86 422.59 L715.65 422.44 L716.40 422.26 L717.13 422.11 L717.85 422.01 L718.60 422.00 L719.37 422.15 L720.15 422.43 L720.93 422.77 L721.69 423.08 L722.45 423.29 L723.20 423.30 L723.97 423.06 L724.72 422.61 L725.46 422.05 L726.19 421.44 L726.94 420.86 L727.70 420.40 L728.43 420.06 L729.18 419.75 L729.93 419.47 L730.68 419.22 L731.44 419.00 L732.20 418.80 L732.95 418.63 L733.72 418.48 L734.49 418.36 L735.25 418.27 L735.99 418.21 L736.70 418.20 L737.29 418.24 L737.85 418.33 L738.41 418.45 L738.95 418.57 L739.48 418.68 L740.00 418.75 L740.44 418.80 L740.88 418.87 L741.31 418.93 L741.72 418.95 L742.12 418.90 L742.50 418.75 L742.98 418.28 L743.41 417.52 L743.81 416.64 L744.20 415.79 L744.59 415.13 L745.00 414.80 L745.27 414.82 L745.55 414.98 L745.82 415.21 L746.10 415.47 L746.39 415.68 L746.70 415.80 L747.08 415.79 L747.50 415.67 L747.93 415.50 L748.36 415.34 L748.79 415.24 L749.20 415.25 L749.65 415.46 L750.10 415.84 L750.54 416.28 L750.96 416.71 L751.35 417.01 L751.70 417.10 L751.93 416.97 L752.12 416.71 L752.29 416.36 L752.45 415.99 L752.65 415.65 L752.90 415.40 L753.25 415.19 L753.66 415.01 L754.10 414.87 L754.56 414.78 L755.00 414.75 L755.40 414.80 L755.78 415.01 L756.13 415.38 L756.47 415.81 L756.80 416.24 L757.14 416.56 L757.50 416.70 L757.89 416.61 L758.29 416.34 L758.69 415.96 L759.11 415.53 L759.55 415.13 L760.00 414.80 L760.52 414.51 L761.07 414.22 L761.64 413.95 L762.21 413.73 L762.77 413.57 L763.30 413.50 L763.73 413.54 L764.15 413.65 L764.57 413.82 L764.97 414.00 L765.38 414.17 L765.80 414.30 L766.22 414.40 L766.66 414.52 L767.10 414.62 L767.53 414.69 L767.93 414.69 L768.30 414.60 L768.63 414.35 L768.91 413.96 L769.17 413.50 L769.42 413.05 L769.69 412.69 L770.00 412.50 L770.33 412.54 L770.68 412.75 L771.04 413.03 L771.41 413.31 L771.77 413.49 L772.10 413.50 L772.57 413.02 L772.99 412.09 L773.40 410.93 L773.79 409.81 L774.19 408.95 L774.60 408.60 L775.00 408.89 L775.40 409.63 L775.80 410.61 L776.21 411.63 L776.64 412.46 L777.10 412.90 L777.43 412.96 L777.79 412.91 L778.15 412.78 L778.51 412.59 L778.86 412.36 L779.20 412.10 L779.64 411.58 L780.04 410.84 L780.43 410.02 L780.82 409.23 L781.23 408.58 L781.70 408.20 L782.09 408.15 L782.52 408.25 L782.97 408.43 L783.40 408.62 L783.82 408.75 L784.20 408.75 L784.50 408.58 L784.77 408.30 L785.01 407.97 L785.26 407.65 L785.52 407.40 L785.80 407.30 L786.19 407.38 L786.63 407.61 L787.08 407.95 L787.53 408.36 L787.94 408.79 L788.30 409.20 L788.58 409.56 L788.83 409.94 L789.05 410.33 L789.25 410.75 L789.43 411.20 L789.60 411.70 L789.80 412.65 L789.95 413.87 L790.06 415.16 L790.16 416.32 L790.27 417.17 L790.40 417.50 L790.51 417.29 L790.61 416.73 L790.72 415.97 L790.85 415.13 L791.02 414.34 L791.25 413.75 L791.47 413.44 L791.74 413.18 L792.02 412.95 L792.32 412.74 L792.61 412.53 L792.90 412.30" fill="none" stroke="#c862ff" stroke-width="1.30" stroke-linejoin="round" stroke-linecap="round"/>
<path d="M411.00 645.50 L425.50 645.64 L441.59 645.94 L457.69 646.24 L472.18 646.38 L483.49 646.19 L490.00 645.50 L490.53 645.29 L490.92 645.04 L491.21 644.77 L491.46 644.54 L491.71 644.37 L492.00 644.30 L492.32 644.37 L492.61 644.56 L492.91 644.81 L493.23 645.08 L493.58 645.32 L494.00 645.50 L494.90 645.75 L496.02 646.02 L497.25 646.22 L498.50 646.26 L499.65 646.05 L500.60 645.50 L501.99 642.92 L502.76 638.73 L503.10 633.37 L503.21 627.32 L503.28 621.04 L503.50 615.00 L503.92 605.87 L504.23 594.70 L504.47 583.14 L504.69 572.83 L504.92 565.44 L505.20 562.60 L505.43 563.98 L505.68 567.61 L505.92 572.77 L506.18 578.72 L506.44 584.71 L506.70 590.00 L506.96 595.21 L507.19 600.71 L507.43 606.27 L507.71 611.63 L508.05 616.55 L508.50 620.80 L508.84 623.22 L509.23 625.72 L509.64 628.05 L510.06 630.00 L510.45 631.32 L510.80 631.80 L511.37 629.40 L511.80 623.16 L512.15 614.38 L512.45 604.36 L512.75 594.40 L513.10 585.80 L513.47 577.72 L513.85 568.55 L514.22 559.43 L514.59 551.50 L514.95 545.91 L515.30 543.80 L515.67 547.24 L516.00 556.13 L516.31 568.33 L516.64 581.68 L517.03 594.05 L517.50 603.30 L517.81 607.23 L518.14 611.21 L518.49 614.90 L518.85 617.96 L519.19 620.04 L519.50 620.80 L520.12 615.87 L520.62 603.00 L521.07 584.95 L521.49 564.50 L521.92 544.42 L522.40 527.50 L522.86 513.66 L523.35 498.31 L523.84 483.24 L524.33 470.25 L524.82 461.14 L525.30 457.70 L525.80 462.01 L526.29 473.36 L526.78 489.40 L527.27 507.75 L527.77 526.08 L528.30 542.00 L528.82 557.58 L529.33 575.37 L529.85 593.12 L530.41 608.60 L531.05 619.54 L531.80 623.70 L532.39 621.07 L533.04 614.46 L533.74 605.86 L534.42 597.27 L535.05 590.65 L535.60 588.00 L535.87 588.59 L536.12 590.17 L536.35 592.41 L536.57 595.01 L536.79 597.64 L537.00 600.00 L537.23 602.41 L537.46 604.89 L537.68 607.42 L537.89 609.97 L538.10 612.51 L538.30 615.00 L538.49 617.43 L538.66 619.92 L538.84 622.39 L539.01 624.79 L539.20 627.05 L539.40 629.10 L539.55 630.42 L539.69 631.66 L539.85 632.84 L540.01 633.95 L540.19 635.00 L540.40 636.00 L540.55 636.73 L540.69 637.43 L540.83 638.11 L541.01 638.73 L541.26 639.30 L541.60 639.80 L542.04 640.20 L542.57 640.51 L543.16 640.77 L543.79 641.01 L544.41 641.24 L545.00 641.50 L545.59 641.84 L546.20 642.25 L546.81 642.66 L547.39 643.00 L547.93 643.20 L548.40 643.20 L548.76 643.00 L549.06 642.64 L549.33 642.17 L549.56 641.62 L549.78 641.02 L550.00 640.40 L550.32 639.26 L550.58 637.91 L550.80 636.43 L550.99 634.90 L551.19 633.39 L551.40 632.00 L551.60 630.72 L551.79 629.29 L551.98 627.89 L552.18 626.68 L552.38 625.83 L552.60 625.50 L552.81 625.78 L553.03 626.52 L553.26 627.56 L553.50 628.76 L553.75 629.96 L554.00 631.00 L554.27 632.03 L554.56 633.21 L554.85 634.39 L555.14 635.41 L555.43 636.13 L555.70 636.40 L555.98 635.96 L556.22 634.84 L556.46 633.32 L556.70 631.66 L556.98 630.13 L557.30 629.00 L557.51 628.51 L557.74 628.02 L557.98 627.58 L558.23 627.22 L558.47 626.98 L558.70 626.90 L558.96 627.05 L559.22 627.44 L559.48 627.99 L559.73 628.64 L559.97 629.33 L560.20 630.00 L560.49 631.00 L560.74 632.13 L560.97 633.34 L561.19 634.59 L561.43 635.83 L561.70 637.00 L561.97 638.17 L562.24 639.46 L562.52 640.74 L562.83 641.87 L563.18 642.74 L563.60 643.20 L563.84 643.25 L564.10 643.20 L564.38 643.08 L564.65 642.92 L564.93 642.75 L565.20 642.60 L565.48 642.42 L565.76 642.18 L566.03 641.93 L566.31 641.71 L566.60 641.55 L566.90 641.50 L567.35 641.69 L567.85 642.13 L568.36 642.69 L568.87 643.24 L569.34 643.64 L569.75 643.75 L570.07 643.57 L570.35 643.21 L570.60 642.72 L570.83 642.15 L571.06 641.56 L571.30 641.00 L571.60 640.20 L571.90 639.23 L572.19 638.21 L572.48 637.31 L572.78 636.65 L573.10 636.40 L573.45 636.68 L573.81 637.43 L574.18 638.46 L574.57 639.60 L574.97 640.67 L575.40 641.50 L575.74 641.97 L576.09 642.41 L576.44 642.82 L576.82 643.18 L577.20 643.49 L577.60 643.75 L577.96 643.94 L578.34 644.09 L578.74 644.21 L579.13 644.28 L579.52 644.32 L579.90 644.30 L580.27 644.18 L580.63 643.96 L580.99 643.69 L581.35 643.43 L581.72 643.25 L582.10 643.20 L582.65 643.44 L583.23 643.97 L583.83 644.63 L584.43 645.26 L584.99 645.70 L585.50 645.80 L586.06 645.26 L586.53 644.13 L586.96 642.70 L587.37 641.23 L587.80 639.99 L588.30 639.25 L588.57 639.09 L588.85 639.00 L589.14 638.96 L589.43 638.96 L589.72 639.01 L590.00 639.10 L590.37 639.35 L590.73 639.76 L591.08 640.26 L591.45 640.73 L591.83 641.11 L592.25 641.30 L592.77 641.20 L593.35 640.86 L593.96 640.39 L594.55 639.92 L595.11 639.59 L595.60 639.50 L595.94 639.64 L596.23 639.91 L596.49 640.26 L596.74 640.67 L597.01 641.09 L597.30 641.50 L597.72 642.07 L598.14 642.73 L598.59 643.42 L599.06 644.08 L599.56 644.66 L600.10 645.10 L600.62 645.37 L601.17 645.58 L601.75 645.72 L602.34 645.81 L602.93 645.83 L603.50 645.80 L604.07 645.66 L604.64 645.39 L605.20 645.06 L605.76 644.72 L606.33 644.45 L606.90 644.30 L607.46 644.33 L608.03 644.49 L608.61 644.70 L609.18 644.89 L609.73 644.98 L610.25 644.90 L610.87 644.45 L611.44 643.70 L611.98 642.78 L612.51 641.84 L613.05 641.00 L613.60 640.40 L613.98 640.12 L614.36 639.88 L614.74 639.68 L615.12 639.54 L615.51 639.47 L615.90 639.50 L616.45 639.80 L617.02 640.41 L617.59 641.15 L618.16 641.86 L618.72 642.40 L619.25 642.60 L619.74 642.37 L620.21 641.82 L620.67 641.11 L621.12 640.38 L621.56 639.80 L622.00 639.50 L622.30 639.52 L622.60 639.68 L622.90 639.90 L623.19 640.11 L623.46 640.23 L623.70 640.20 L624.14 639.52 L624.41 638.21 L624.58 636.43 L624.70 634.36 L624.82 632.16 L625.00 630.00 L625.35 625.82 L625.69 620.44 L626.04 614.75 L626.43 609.60 L626.87 605.86 L627.40 604.40 L627.92 605.28 L628.52 607.63 L629.15 610.96 L629.79 614.80 L630.42 618.64 L631.00 622.00 L631.48 625.20 L631.85 628.67 L632.21 632.15 L632.64 635.37 L633.21 638.08 L634.00 640.00 L634.46 640.62 L634.97 641.16 L635.52 641.61 L636.06 641.92 L636.57 642.06 L637.00 642.00 L637.60 641.28 L638.02 639.85 L638.32 637.85 L638.54 635.45 L638.75 632.78 L639.00 630.00 L639.56 621.20 L639.98 608.77 L640.33 595.05 L640.65 582.36 L640.99 573.03 L641.40 569.40 L641.74 570.96 L642.09 575.07 L642.46 580.89 L642.83 587.55 L643.22 594.21 L643.60 600.00 L643.93 605.21 L644.19 610.64 L644.45 616.06 L644.79 621.24 L645.29 625.97 L646.00 630.00 L646.53 632.08 L647.12 633.99 L647.76 635.73 L648.45 637.31 L649.20 638.73 L650.00 640.00 L650.63 640.87 L651.31 641.74 L652.03 642.53 L652.73 643.15 L653.40 643.54 L654.00 643.60 L654.60 643.02 L655.10 641.77 L655.53 640.16 L655.96 638.47 L656.43 636.99 L657.00 636.00 L657.37 635.65 L657.77 635.35 L658.19 635.12 L658.60 634.97 L659.01 634.92 L659.40 635.00 L660.07 635.65 L660.71 636.91 L661.34 638.49 L661.93 640.12 L662.49 641.52 L663.00 642.40 L663.16 642.57 L663.30 642.70 L663.43 642.79 L663.58 642.87 L663.76 642.93 L664.00 643.00 L665.30 643.18 L667.25 643.27 L669.57 643.27 L671.98 643.21 L674.22 643.11 L676.00 643.00 L676.78 642.91 L677.47 642.79 L678.09 642.65 L678.69 642.52 L679.31 642.43 L680.00 642.40 L680.93 642.49 L681.92 642.71 L682.94 642.99 L683.97 643.24 L685.00 643.40 L686.00 643.40 L687.02 643.15 L688.05 642.71 L689.08 642.16 L690.09 641.63 L691.07 641.21 L692.00 641.00 L692.69 641.03 L693.32 641.17 L693.93 641.39 L694.55 641.63 L695.23 641.85 L696.00 642.00 L697.43 642.10 L699.09 642.11 L700.87 642.06 L702.69 642.01 L704.43 641.97 L706.00 642.00 L707.07 642.09 L708.06 642.22 L709.00 642.37 L709.95 642.50 L710.93 642.59 L712.00 642.60 L713.58 642.52 L715.33 642.36 L717.15 642.13 L718.94 641.82 L720.59 641.45 L722.00 641.00 L722.80 640.59 L723.50 640.06 L724.13 639.50 L724.74 638.99 L725.35 638.59 L726.00 638.40 L726.65 638.48 L727.29 638.76 L727.94 639.16 L728.60 639.57 L729.29 639.88 L730.00 640.00 L730.92 639.84 L731.87 639.46 L732.86 638.94 L733.87 638.36 L734.92 637.82 L736.00 637.40 L737.29 637.01 L738.68 636.60 L740.12 636.24 L741.52 635.97 L742.84 635.88 L744.00 636.00 L744.77 636.34 L745.43 636.88 L746.04 637.53 L746.64 638.17 L747.28 638.69 L748.00 639.00 L748.90 639.03 L749.88 638.83 L750.89 638.50 L751.93 638.12 L752.98 637.79 L754.00 637.60 L755.00 637.57 L755.99 637.63 L757.00 637.74 L758.00 637.86 L759.00 637.96 L760.00 638.00 L761.00 637.98 L762.00 637.93 L763.00 637.86 L764.00 637.78 L765.00 637.69 L766.00 637.60 L767.04 637.46 L768.14 637.24 L769.24 637.02 L770.28 636.86 L771.22 636.83 L772.00 637.00 L772.45 637.34 L772.82 637.87 L773.13 638.46 L773.41 639.02 L773.69 639.44 L774.00 639.60 L774.32 639.43 L774.61 639.01 L774.91 638.44 L775.22 637.84 L775.58 637.32 L776.00 637.00 L776.56 636.88 L777.20 636.90 L777.89 637.02 L778.60 637.21 L779.32 637.41 L780.00 637.60 L780.68 637.83 L781.35 638.16 L782.02 638.50 L782.69 638.80 L783.35 638.99 L784.00 639.00 L784.68 638.71 L785.35 638.15 L786.01 637.47 L786.66 636.78 L787.32 636.25 L788.00 636.00 L788.66 636.08 L789.33 636.38 L790.01 636.81 L790.69 637.28 L791.35 637.71 L792.00 638.00 L792.52 638.13 L793.02 638.22 L793.52 638.27 L794.01 638.31 L794.50 638.35 L795.00 638.40" fill="none" stroke="#068a12" stroke-width="1.30" stroke-linejoin="round" stroke-linecap="round"/>
<line x1="82.00" y1="186.30" x2="86.50" y2="187.80" stroke="#33b04a" stroke-width="1.2" stroke-linecap="round"/>
<line x1="219.00" y1="167.40" x2="222.60" y2="166.00" stroke="#33b04a" stroke-width="1.2" stroke-linecap="round"/>
<line x1="236.60" y1="202.40" x2="243.00" y2="200.60" stroke="#33b04a" stroke-width="1.2" stroke-linecap="round"/>
<line x1="311.00" y1="185.00" x2="313.00" y2="186.40" stroke="#33b04a" stroke-width="1.2" stroke-linecap="round"/>
<line x1="82.10" y1="406.90" x2="86.50" y2="408.75" stroke="#33b04a" stroke-width="1.2" stroke-linecap="round"/>
<line x1="311.25" y1="394.40" x2="312.75" y2="395.60" stroke="#33b04a" stroke-width="1.2" stroke-linecap="round"/>
<line x1="471.40" y1="208.90" x2="492.70" y2="210.30" stroke="#33b04a" stroke-width="1.2" stroke-linecap="round"/>
<line x1="126.70" y1="458.30" x2="132.90" y2="455.30" stroke="#000" stroke-width="1.10"/>
<line x1="132.50" y1="496.60" x2="142.90" y2="479.40" stroke="#000" stroke-width="1.10"/>
<line x1="182.40" y1="498.40" x2="189.00" y2="492.50" stroke="#000" stroke-width="1.10"/>
<line x1="108.00" y1="545.00" x2="117.10" y2="568.60" stroke="#000" stroke-width="1.10"/>
<line x1="99.00" y1="577.00" x2="105.00" y2="580.70" stroke="#000" stroke-width="1.10"/>
<line x1="93.50" y1="598.50" x2="99.70" y2="607.80" stroke="#000" stroke-width="1.10"/>
<line x1="78.20" y1="610.30" x2="85.10" y2="614.90" stroke="#000" stroke-width="1.10"/>
<line x1="193.50" y1="531.25" x2="186.70" y2="584.40" stroke="#000" stroke-width="1.10"/>
<line x1="220.60" y1="555.20" x2="227.90" y2="549.00" stroke="#000" stroke-width="1.10"/>
<line x1="306.00" y1="606.90" x2="312.90" y2="612.50" stroke="#000" stroke-width="1.10"/>
<line x1="528.00" y1="457.25" x2="534.50" y2="454.50" stroke="#000" stroke-width="1.10"/>
<line x1="499.40" y1="530.60" x2="513.10" y2="542.25" stroke="#000" stroke-width="1.10"/>
<line x1="497.75" y1="555.60" x2="504.00" y2="561.50" stroke="#000" stroke-width="1.10"/>
<line x1="537.00" y1="586.40" x2="544.00" y2="581.00" stroke="#000" stroke-width="1.10"/>
<line x1="565.60" y1="601.00" x2="560.00" y2="625.00" stroke="#000" stroke-width="1.10"/>
<line x1="643.40" y1="568.00" x2="649.60" y2="563.00" stroke="#000" stroke-width="1.10"/>
<rect x="248.8" y="709.4" width="17.2" height="4.2" fill="#000"/>
<rect x="338.4" y="709.4" width="17.6" height="4.2" fill="#009530"/>
<rect x="483.2" y="709.5" width="17.3" height="4.2" fill="#c35cff"/>
<text x="170.00" y="14.25" font-size="15.00" font-weight="bold" textLength="38.50" lengthAdjust="spacingAndGlyphs" text-anchor="start">ESI +</text>
<text x="582.00" y="14.25" font-size="15.00" font-weight="bold" textLength="35.50" lengthAdjust="spacingAndGlyphs" text-anchor="start">ESI -</text>
<text x="239.50" y="53.50" font-size="12.00" font-weight="bold" textLength="94.40" lengthAdjust="spacingAndGlyphs" text-anchor="start">Intensity 1.08E9</text>
<text x="649.00" y="53.50" font-size="12.00" font-weight="bold" textLength="95.25" lengthAdjust="spacingAndGlyphs" text-anchor="start">Intensity 3.35E8</text>
<text x="239.10" y="275.60" font-size="12.00" font-weight="bold" textLength="94.40" lengthAdjust="spacingAndGlyphs" text-anchor="start">Intensity 3.90E8</text>
<text x="652.10" y="275.60" font-size="12.00" font-weight="bold" textLength="94.80" lengthAdjust="spacingAndGlyphs" text-anchor="start">Intensity 1.73E8</text>
<text x="241.50" y="486.60" font-size="12.00" font-weight="bold" textLength="92.00" lengthAdjust="spacingAndGlyphs" text-anchor="start">Intensity1.03E9</text>
<text x="658.10" y="486.60" font-size="12.00" font-weight="bold" textLength="94.80" lengthAdjust="spacingAndGlyphs" text-anchor="start">Intensity 3.61E8</text>
<text x="15.25" y="33.40" font-size="13.00" textLength="20.50" lengthAdjust="spacingAndGlyphs" text-anchor="start">100</text>
<text x="28.40" y="220.75" font-size="13.00" textLength="7.35" lengthAdjust="spacingAndGlyphs" text-anchor="start">0</text>
<text x="15.25" y="249.90" font-size="13.00" textLength="20.50" lengthAdjust="spacingAndGlyphs" text-anchor="start">100</text>
<text x="27.20" y="437.60" font-size="16.00" textLength="8.50" lengthAdjust="spacingAndGlyphs" text-anchor="start">0</text>
<text x="15.25" y="463.00" font-size="13.00" textLength="20.50" lengthAdjust="spacingAndGlyphs" text-anchor="start">100</text>
<text x="28.30" y="650.75" font-size="13.00" textLength="7.40" lengthAdjust="spacingAndGlyphs" text-anchor="start">0</text>
<text x="380.75" y="33.40" font-size="13.00" textLength="20.65" lengthAdjust="spacingAndGlyphs" text-anchor="start">100</text>
<text x="393.70" y="219.60" font-size="13.00" textLength="7.20" lengthAdjust="spacingAndGlyphs" text-anchor="start">0</text>
<text x="380.30" y="250.00" font-size="13.00" textLength="20.45" lengthAdjust="spacingAndGlyphs" text-anchor="start">100</text>
<text x="393.30" y="435.75" font-size="13.00" textLength="7.40" lengthAdjust="spacingAndGlyphs" text-anchor="start">0</text>
<text x="380.30" y="463.20" font-size="13.00" textLength="20.40" lengthAdjust="spacingAndGlyphs" text-anchor="start">100</text>
<text x="393.30" y="650.75" font-size="13.00" textLength="7.40" lengthAdjust="spacingAndGlyphs" text-anchor="start">0</text>
<text x="46.40" y="668.50" font-size="12.50" text-anchor="middle">1.5</text>
<text x="410.30" y="668.50" font-size="12.50" text-anchor="middle">1.5</text>
<text x="86.66" y="668.50" font-size="12.50" text-anchor="middle">2.0</text>
<text x="464.28" y="668.50" font-size="12.50" text-anchor="middle">2.0</text>
<text x="126.92" y="668.50" font-size="12.50" text-anchor="middle">2.5</text>
<text x="518.26" y="668.50" font-size="12.50" text-anchor="middle">2.5</text>
<text x="167.18" y="668.50" font-size="12.50" text-anchor="middle">3.0</text>
<text x="572.24" y="668.50" font-size="12.50" text-anchor="middle">3.0</text>
<text x="207.44" y="668.50" font-size="12.50" text-anchor="middle">3.5</text>
<text x="626.22" y="668.50" font-size="12.50" text-anchor="middle">3.5</text>
<text x="247.70" y="668.50" font-size="12.50" text-anchor="middle">4.0</text>
<text x="680.20" y="668.50" font-size="12.50" text-anchor="middle">4.0</text>
<text x="287.96" y="668.50" font-size="12.50" text-anchor="middle">4.5</text>
<text x="734.18" y="668.50" font-size="12.50" text-anchor="middle">4.5</text>
<text x="328.22" y="668.50" font-size="12.50" text-anchor="middle">5.0</text>
<text x="788.16" y="668.50" font-size="12.50" text-anchor="middle">5.0</text>
<text x="157.80" y="686.70" font-size="12.50" textLength="59.90" lengthAdjust="spacingAndGlyphs" text-anchor="start">Time (min)</text>
<text x="570.25" y="686.60" font-size="12.50" textLength="59.95" lengthAdjust="spacingAndGlyphs" text-anchor="start">Time (min)</text>
<text transform="translate(11.9 170.30) rotate(-90)" x="0" y="0" font-size="12.2" textLength="112.05" lengthAdjust="spacingAndGlyphs">Relative Abundance</text>
<text transform="translate(11.9 386.50) rotate(-90)" x="0" y="0" font-size="12.2" textLength="112.00" lengthAdjust="spacingAndGlyphs">Relative Abundance</text>
<text transform="translate(11.9 600.10) rotate(-90)" x="0" y="0" font-size="12.2" textLength="111.40" lengthAdjust="spacingAndGlyphs">Relative Abundance</text>
<text x="134.00" y="458.75" font-size="11.00" textLength="68.80" lengthAdjust="spacingAndGlyphs" text-anchor="start">C24H44N4O4</text>
<text x="142.70" y="477.30" font-size="11.00" textLength="69.10" lengthAdjust="spacingAndGlyphs" text-anchor="start">C36H66N6O6</text>
<text x="159.90" y="490.40" font-size="11.00" textLength="62.90" lengthAdjust="spacingAndGlyphs" text-anchor="start">C12H15NO6</text>
<text x="61.00" y="540.80" font-size="11.00" textLength="55.60" lengthAdjust="spacingAndGlyphs" text-anchor="start">C21H20O9</text>
<text x="61.00" y="552.60" font-size="11.00" textLength="36.50" lengthAdjust="spacingAndGlyphs" text-anchor="start">Daidzin</text>
<text x="46.20" y="574.90" font-size="11.00" textLength="69.30" lengthAdjust="spacingAndGlyphs" text-anchor="start">C12H22N2O2</text>
<text x="86.00" y="595.70" font-size="11.00" textLength="11.50" lengthAdjust="spacingAndGlyphs" text-anchor="start">W</text>
<text x="188.90" y="528.50" font-size="11.00" textLength="62.85" lengthAdjust="spacingAndGlyphs" text-anchor="start">C18H37NO3</text>
<text x="228.50" y="550.00" font-size="11.00" textLength="69.70" lengthAdjust="spacingAndGlyphs" text-anchor="start">C21H26N2O5</text>
<text x="273.25" y="604.20" font-size="11.00" textLength="56.85" lengthAdjust="spacingAndGlyphs" text-anchor="start">C18H35NO</text>
<text x="50.80" y="604.20" font-size="7.50" text-anchor="start">13</text>
<text x="58.70" y="608.50" font-size="11.00" text-anchor="start">C</text>
<text x="66.50" y="609.60" font-size="8.00" text-anchor="start">6</text>
<text x="71.40" y="608.50" font-size="11.00" textLength="19.60" lengthAdjust="spacingAndGlyphs" text-anchor="start">Phe</text>
<text x="536.75" y="458.00" font-size="11.00" textLength="69.65" lengthAdjust="spacingAndGlyphs" text-anchor="start">C36H66N6O6</text>
<text x="428.50" y="530.90" font-size="11.00" textLength="68.90" lengthAdjust="spacingAndGlyphs" text-anchor="start">C24H44N4O4</text>
<text x="442.25" y="556.25" font-size="11.00" textLength="55.15" lengthAdjust="spacingAndGlyphs" text-anchor="start">C21H20O9</text>
<text x="442.25" y="568.50" font-size="11.00" textLength="36.75" lengthAdjust="spacingAndGlyphs" text-anchor="start">Daidzin</text>
<text x="544.50" y="581.00" font-size="11.00" textLength="69.00" lengthAdjust="spacingAndGlyphs" text-anchor="start">C19H34N2O6</text>
<text x="562.10" y="598.60" font-size="11.00" textLength="69.40" lengthAdjust="spacingAndGlyphs" text-anchor="start">C20H36N2O6</text>
<text x="650.50" y="562.40" font-size="11.00" textLength="70.00" lengthAdjust="spacingAndGlyphs" text-anchor="start">C21H26N2O5</text>
<text x="273.25" y="716.25" font-size="12.50" textLength="40.50" lengthAdjust="spacingAndGlyphs" text-anchor="start">Control</text>
<text x="362.00" y="716.25" font-size="12.50" textLength="89.75" lengthAdjust="spacingAndGlyphs" text-anchor="start">GmMYB176-OE</text>
<text x="506.50" y="716.25" font-size="12.50" textLength="84.00" lengthAdjust="spacingAndGlyphs" text-anchor="start">GmMYB176-Si</text>
</svg></body></html>
